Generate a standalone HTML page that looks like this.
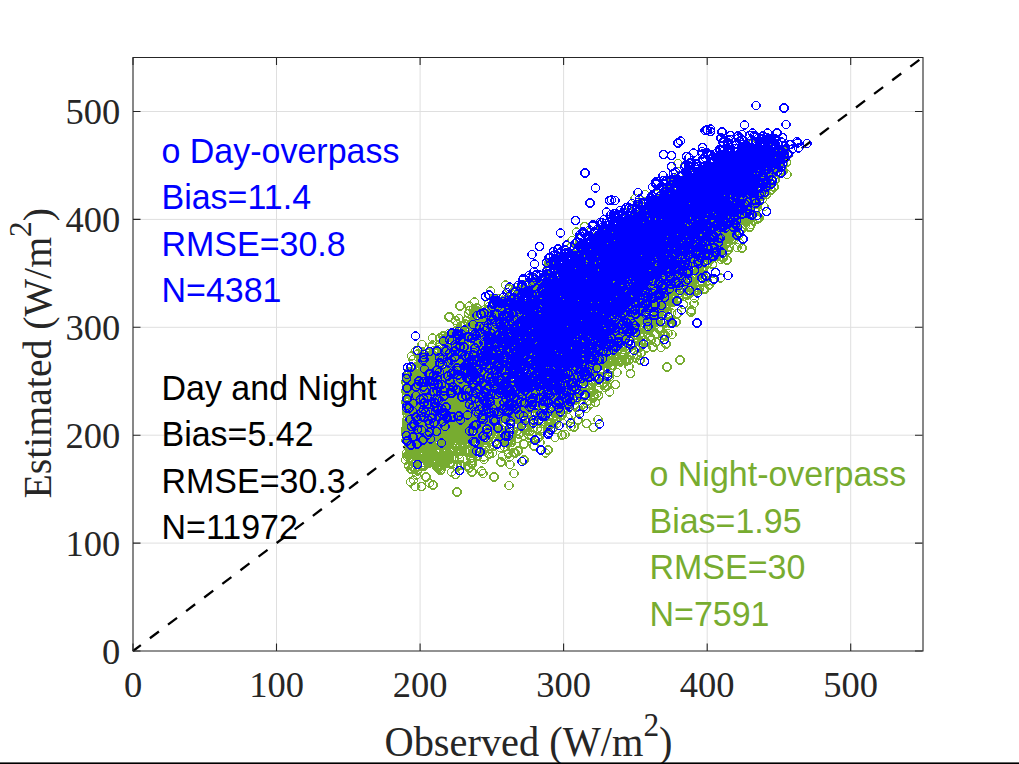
<!DOCTYPE html><html><head><meta charset="utf-8"><style>html,body{margin:0;padding:0;background:#fff;overflow:hidden}svg{display:block}</style></head><body><svg width="1019" height="764" viewBox="0 0 1019 764"><rect width="1019" height="764" fill="#fff"/><path d="M276.5 57.5V651.0M133.0 543.1H922.5M420.1 57.5V651.0M133.0 435.2H922.5M563.6 57.5V651.0M133.0 327.3H922.5M707.2 57.5V651.0M133.0 219.4H922.5M850.7 57.5V651.0M133.0 111.5H922.5" stroke="#dfdfdf" stroke-width="1" fill="none"/><defs><marker id="g" markerWidth="24" markerHeight="24" refX="12" refY="12" markerUnits="userSpaceOnUse" overflow="visible"><path d="M8.7 4.1L15.3 4.1L19.9 8.7L19.9 15.3L15.3 19.9L8.7 19.9L4.1 15.3L4.1 8.7Z" fill="none" stroke="#77ac30" stroke-width="2.3" shape-rendering="crispEdges"/></marker><marker id="b" markerWidth="24" markerHeight="24" refX="12" refY="12" markerUnits="userSpaceOnUse" overflow="visible"><path d="M8.7 4.1L15.3 4.1L19.9 8.7L19.9 15.3L15.3 19.9L8.7 19.9L4.1 15.3L4.1 8.7Z" fill="none" stroke="#0000ff" stroke-width="2.3" shape-rendering="crispEdges"/></marker></defs><path d="M133.0 651.0L922.5 57.5" stroke="#000" stroke-width="2.3" stroke-dasharray="11.3 11.35" stroke-dashoffset="1.5" fill="none"/><g transform="scale(0.5)"><path d="M1131 638 1466 325 909 697 1464 400 1012 795 1079 658 1347 564 1071 810 1153 562 831 905 1289 488 1147 788 1023 881 1316 636 1007 677 1097 552 903 944 1067 642 947 823 982 707 1287 536 993 801 1115 820 1508 336 1480 436 1268 526 1148 639 991 714 920 728 1491 327 1133 577 891 849 1200 680 1307 544 1193 696 1429 495 840 902 1141 628 1100 759 855 752 1211 590 1368 394 1180 613 981 744 1357 499 1130 801 1130 593 1289 490 912 832 1340 646 1239 522 1315 542 939 846 1326 406 939 612 868 701 1370 485 1375 463 1389 470 1108 569 990 757 816 816 1214 586 1265 512 1353 534 994 684 954 616 1210 622 1329 606 1482 367 914 802 1114 789 1406 541 1079 750 1178 685 829 787 1233 712 1431 493 1346 549 1397 471 1224 510 972 666 1300 673 952 707 1350 479 856 755 1345 488 922 790 1050 775 1015 599 1245 582 931 756 1063 683 816 755 983 850 1078 671 885 730 1206 598 1053 742 1269 556 1219 754 1084 708 1381 451 1205 574 1333 585 1030 647 1150 657 942 838 1547 334 971 689 979 762 863 766 980 723 1296 548 1249 471 900 875 1051 625 1078 672 1227 611 1098 703 1176 632 1357 515 1269 644 1044 623 1094 732 1046 664 887 684 946 903 995 715 1014 838 1013 684 1170 691 1493 422 1305 639 1318 658 1293 522 1183 503 1429 392 1244 675 1124 653 865 676 1117 816 952 704 902 767 1128 800 1313 564 1002 624 1301 463 1139 743 913 770 1484 354 1066 606 1002 699 1363 532 897 913 1275 542 937 673 1061 798 964 825 1358 596 1059 714 1498 364 1201 642 1246 611 1137 728 1011 570 1062 757 1455 384 945 695 1523 393 1293 604 1041 679 1211 470 1054 675 1054 568 1126 646 823 805 1120 600 1493 356 996 795 1285 515 1090 647 950 873 1416 474 823 755 1007 628 1564 340 982 731 1365 374 1188 705 1329 643 1204 595 1043 777 1295 571 830 819 1093 603 1048 664 1111 749 899 909 958 780 1161 605 1058 664 1318 518 1188 667 1375 395 1274 539 1186 728 998 692 1311 487 976 741 864 809 1481 436 1148 716 1304 524 1141 666 1192 541 836 832 936 729 1233 506 1166 608 919 806 1468 440 916 780 1130 674 909 818 1263 543 991 698 903 821 844 913 929 831 939 698 1146 540 1095 738 1474 415 1470 371 1322 495 1231 572 1361 484 1452 489 828 785 893 676 1041 613 876 936 1184 769 981 767 984 775 998 645 879 878 1280 498 1217 480 1189 641 836 845 1083 605 1241 555 917 860 1057 653 826 756 869 790 954 790 1074 654 1102 594 1396 507 1015 652 827 774 1346 470 855 864 876 903 1482 461 1289 465 1028 820 902 725 1057 705 1029 729 1387 465 1076 743 869 736 1439 430 1199 701 892 676 889 760 1104 577 875 815 1205 630 1195 590 834 912 1330 558 1314 596 1427 350 1230 526 1246 649 922 785 829 858 858 789 1483 342 1214 705 1462 452 1035 736 1290 616 857 712 923 735 991 803 1154 577 1158 592 1123 661 1080 672 1169 594 1486 412 1099 732 1355 501 851 894 1057 684 1160 526 1197 584 975 655 1065 633 1462 450 1216 679 1175 749 857 858 848 813 951 883 905 780 1514 438 813 878 1045 648 853 738 1210 518 844 797 860 792 867 730 988 672 1170 493 1329 540 985 906 995 702 1344 482 1284 523 898 875 1330 616 1350 450 931 830 1202 688 942 790 971 865 1121 596 1137 668 1112 685 1148 640 952 813 1308 484 992 778 1424 355 1133 578 1007 809 929 652 1115 602 1051 571 1199 679 1123 546 838 832 1351 476 848 910 1347 427 1335 540 1436 479 1226 604 920 900 1090 747 1088 767 1205 553 1054 666 1234 624 947 844 1037 667 1150 675 1081 677 896 742 1485 422 1245 660 1351 498 1040 734 1459 397 1334 504 1506 374 943 742 1111 820 1057 730 1193 551 975 675 881 870 1110 760 1210 476 1056 742 1521 392 1069 702 1005 640 1336 482 1105 616 989 659 997 681 1462 409 1480 357 1214 616 992 708 1259 523 955 654 1019 825 1149 785 1066 638 1036 656 1497 420 926 651 1193 622 839 842 875 814 951 703 1532 345 1269 539 1381 458 846 780 1238 501 1089 652 1075 562 1257 555 1010 679 1132 604 981 831 1060 769 1144 587 918 874 991 856 1077 621 1108 672 1325 449 1212 626 1161 759 1383 576 943 865 883 733 1061 582 905 784 1157 635 1168 695 901 741 1262 562 1158 696 1079 675 1429 476 1371 464 957 806 924 866 1427 409 918 667 1292 684 1013 663 1042 727 1156 639 1438 394 813 855 921 715 1265 600 1062 617 998 668 1481 358 983 703 1261 542 1483 347 1296 605 1257 468 1267 583 1329 434 988 598 1202 730 1327 500 1400 485 1417 442 1415 455 879 861 1051 759 1098 626 1403 480 1077 775 984 710 826 933 998 673 1310 555 826 918 923 834 1012 702 1143 521 1043 728 1395 445 949 652 1161 634 1307 489 1442 444 1386 492 904 716 1318 517 1234 658 1078 646 830 925 925 779 1286 527 870 774 1013 798 978 686 1284 557 1041 637 872 747 1048 727 1021 704 1263 520 1017 705 1246 613 1147 595 1399 498 1274 599 1070 683 1115 695 1107 702 1385 566 906 895 1079 756 1145 634 1087 719 1183 615 1123 757 1073 597 1242 630 1023 742 1189 610 1271 551 901 864 1021 724 1459 452 1486 431 1534 362 842 932 1346 604 1448 396 1413 485 1261 426 1234 745 1265 527 1169 551 1316 472 1125 740 960 670 877 906 1419 410 1290 512 930 803 1343 384 1005 632 1207 585 1039 734 953 642 929 879 861 827 864 820 860 796 874 913 1352 433 1134 610 899 919 1139 696 1149 576 1122 657 948 889 1085 781 1384 430 1055 791 1126 604 1443 453 964 685 1269 629 1115 702 1315 565 1041 780 1149 624 1046 663 1380 466 1426 379 1205 577 1509 342 1273 456 1349 544 1406 394 988 687 1520 333 1059 852 1122 645 932 764 1342 473 1027 710 1243 636 956 848 1036 693 1056 678 967 714 836 872 1302 411 1466 376 960 842 921 706 1034 595 869 775 1217 751 1046 607 1161 595 1417 460 1375 450 1433 404 1448 413 1178 576 1125 663 838 771 882 939 1138 701 1371 396 1084 618 814 860 952 663 1294 486 919 735 944 708 997 784 1190 511 1354 528 956 827 1184 518 1142 603 1092 753 1172 638 1336 667 955 698 1122 515 879 694 1132 597 1318 553 1560 309 1110 616 1003 625 1172 690 1048 746 892 851 1138 729 1324 450 1403 424 1503 356 1046 745 976 829 888 774 1087 633 1330 483 966 701 1365 473 1259 491 945 668 1205 586 1340 508 1446 391 921 725 1342 495 1306 694 971 859 1002 797 1474 367 1042 643 999 796 1265 652 902 711 1114 701 1040 587 1150 616 1187 587 1210 582 1084 632 1399 412 1353 482 1446 501 1092 699 1272 558 1083 768 992 754 1218 708 1461 433 1328 479 996 714 962 885 1303 518 1254 621 1377 468 911 893 1376 543 1084 669 989 814 1031 626 1537 355 1473 412 870 743 1014 835 1265 490 837 884 837 716 843 859 1382 474 1026 776 1017 729 1319 473 1016 806 1278 425 1047 721 1004 733 1058 677 925 664 864 879 1384 449 1382 432 1101 739 1243 546 1376 421 1060 604 1259 557 1290 535 866 817 906 845 1287 475 1255 558 935 932 1346 420 1325 590 1025 801 1029 618 888 733 1092 686 887 858 1150 747 1200 597 1173 847 862 777 1198 620 1288 510 908 669 1181 675 1340 475 940 714 1425 562 1494 364 1259 561 1385 458 988 751 1227 680 1438 442 843 844 1341 420 967 676 1325 577 1212 639 1326 570 1066 689 1095 778 1436 422 861 777 917 837 1495 405 1425 425 911 731 1496 393 984 833 1404 491 1416 369 828 897 818 846 1022 671 1444 362 1318 448 1057 854 1372 388 1010 722 1034 776 939 740 1477 401 1327 435 1102 660 984 839 1485 453 1063 692 951 776 1080 641 1264 635 1302 466 887 924 1461 445 1233 575 855 858 1355 627 1494 366 1355 480 818 861 1108 733 1178 610 1400 463 1126 811 866 896 1446 465 1468 479 1116 755 849 864 1356 570 1280 627 1493 390 817 781 1086 716 995 698 886 865 1276 566 1030 641 839 775 903 747 1329 464 1188 792 954 658 1248 564 901 755 1232 482 1220 608 815 786 1131 792 1269 495 1293 659 1255 505 1397 521 1291 599 1434 462 1074 739 836 849 933 728 998 773 841 793 886 751 1135 654 976 629 997 830 1280 608 1369 376 1376 407 1048 652 1257 482 1367 484 914 780 945 738 1215 517 984 710 940 687 1046 654 823 816 1088 633 845 787 972 807 955 776 1023 729 897 870 1107 564 1242 631 1029 772 1439 483 1374 590 1009 719 839 918 1300 471 969 816 1025 812 1172 584 1563 301 1005 753 1106 576 1202 606 1239 698 952 732 1182 715 1150 718 1223 604 891 902 898 793 1499 357 1342 475 1347 504 1447 456 1479 365 1061 785 1290 565 1211 568 1160 653 1237 501 1017 656 1376 540 1069 618 912 829 819 823 1210 673 964 700 1473 368 941 780 1015 879 1514 342 1136 678 1434 432 1310 432 893 903 954 886 1057 819 1393 459 1026 822 1102 808 1113 566 1020 783 1314 623 850 856 960 881 1345 446 1195 698 1131 817 1047 666 900 715 1099 646 1521 371 1181 739 1170 701 1528 413 1397 443 1566 342 1470 383 1229 464 1008 861 1203 627 1034 631 1333 644 905 856 1102 823 1358 403 1097 617 1185 592 880 837 996 693 1471 401 1221 579 1044 810 1134 568 1305 540 1315 575 1347 549 999 615 968 738 1209 653 1140 517 1163 567 953 797 1016 643 1288 583 1040 779 1292 530 845 931 1466 350 949 906 1111 633 1433 419 977 782 961 635 1517 389 1416 432 1143 596 854 908 1187 534 976 707 953 702 1445 328 1197 574 1091 745 856 869 1048 643 1378 385 1007 727 1019 770 1189 525 976 741 1158 588 1300 490 997 690 1108 762 1170 585 1043 670 959 778 890 784 1163 720 1451 433 825 907 1379 450 1481 374 1149 606 1488 417 1254 570 1151 575 1103 674 1104 585 1238 722 966 669 1262 551 1119 628 1233 547 1455 431 965 810 1067 808 990 727 849 906 1199 575 1203 666 1568 306 1185 667 1063 658 1412 451 822 844 1007 656 1288 468 920 839 1042 671 1365 419 1032 684 971 783 1402 561 866 922 1371 428 1015 651 949 628 1117 709 1114 699 1484 420 1288 518 1101 570 1159 602 1016 886 1512 364 1057 718 1397 541 1221 579 1428 435 1038 868 1075 705 1047 645 1346 490 1469 383 1344 535 1096 854 1348 447 1272 554 1135 527 934 874 968 805 1253 545 944 780 1160 667 1328 564 1219 744 1191 673 980 783 894 753 836 939 844 720 964 841 1158 700 1079 637 947 675 1007 601 1101 557 1324 482 1221 562 841 795 1113 747 936 745 1370 460 1397 521 1156 840 1277 638 1242 608 1338 521 992 703 962 819 1284 597 1477 472 963 745 1164 644 1150 596 1049 685 1287 525 902 876 1048 595 1084 755 1469 379 1240 577 1258 462 1573 325 961 661 1187 546 886 818 921 764 1248 468 1345 440 1208 494 1172 702 1317 468 1473 320 1438 413 1332 582 1084 819 1299 503 965 825 1415 389 993 642 1507 410 1006 739 984 845 1027 710 1115 624 945 921 983 668 1396 468 1444 389 917 867 1090 667 1077 677 1347 533 1224 622 1070 631 1316 462 1188 599 950 856 1319 568 1104 726 1399 502 1227 599 914 761 1291 516 1173 613 1149 543 1077 745 1225 731 856 840 1126 671 1449 451 947 848 905 857 1071 722 1135 689 1051 757 1115 589 1233 521 1319 496 848 883 1054 685 1197 520 826 828 1464 323 1211 575 1115 677 1094 615 911 713 858 847 1238 554 1436 461 1319 526 827 768 839 761 1131 732 1168 668 1189 527 1388 502 1409 397 1526 357 1026 863 1106 722 1538 308 1251 531 852 824 1421 410 1195 577 941 651 1034 675 1171 596 1219 650 1071 800 1282 540 1143 586 1498 350 1368 412 913 817 883 755 1368 519 1189 674 1500 418 1086 653 932 801 838 820 1300 519 870 928 1213 520 1162 623 1279 462 1458 349 967 774 1114 677 1288 404 946 823 875 855 906 780 1444 463 1316 602 945 795 823 773 1209 526 1018 595 962 754 944 810 1108 623 1031 779 1454 468 1163 689 1411 488 1437 443 1411 404 1123 592 1174 580 1144 681 826 777 1461 475 914 780 1156 722 1239 569 1314 445 1149 538 1210 548 1346 594 1213 643 1228 479 1369 413 863 717 1135 745 830 738 914 741 832 801 1380 485 1023 739 1136 637 1315 444 1243 443 1438 337 1118 563 1252 657 1381 415 886 672 1106 729 873 815 1158 746 1013 784 1357 467 1105 794 921 688 1386 458 1080 838 826 909 986 654 1055 614 830 770 907 770 1003 728 1028 778 1087 778 1004 712 1018 636 1102 654 1036 850 1286 554 1310 598 824 783 921 882 882 762 1037 787 1039 635 1286 570 1272 568 1394 403 1239 529 1182 628 1540 303 1212 654 1059 640 1008 678 837 808 1458 369 1289 505 1051 619 1388 475 1296 516 1104 525 1472 323 1404 448 1092 722 1081 582 914 934 882 763 1040 616 953 845 860 815 1276 525 1479 326 1242 565 1419 371 1383 430 1214 772 1137 588 1040 668 1121 682 1018 641 927 783 1121 711 1224 632 1175 630 1278 510 1027 596 811 920 952 764 999 674 1156 786 1059 669 1222 635 959 869 1105 727 813 906 1241 518 1379 472 1373 515 1387 517 942 731 1509 337 1154 729 936 841 875 853 861 835 1208 554 1203 680 1314 472 1223 635 1135 591 921 789 1275 532 814 818 1224 559 923 730 919 672 1417 376 1439 454 1265 496 962 805 1106 753 1033 603 892 757 967 670 852 954 1494 394 967 666 1057 651 973 630 1218 569 1161 541 1298 588 820 904 947 706 1184 732 1170 665 1344 533 868 808 1048 759 1067 649 1132 566 1036 645 1275 543 884 786 854 831 1013 783 874 720 1061 703 1171 621 870 871 1100 662 1157 568 1163 772 833 950 1304 432 1266 506 1003 714 1107 608 1279 644 1352 465 974 847 1302 471 1079 685 1469 467 1391 364 1040 625 1041 665 1116 589 1479 374 909 782 1153 720 1215 496 1265 482 859 705 1184 535 1095 857 1029 650 1492 444 885 775 1257 556 947 618 1463 469 1124 602 1097 531 974 706 1144 573 1378 433 862 876 1222 576 911 793 960 741 1369 432 862 887 1273 518 852 879 1130 602 1200 633 911 712 1326 670 957 631 1110 589 969 797 1297 488 976 757 982 654 820 809 1411 445 835 790 1014 733 1215 700 1025 835 1183 569 1044 650 1392 516 919 838 825 852 881 920 1138 618 1180 662 1352 505 1471 391 1066 578 1344 566 1068 745 1048 608 902 796 1382 448 1027 646 1215 721 1134 765 1550 338 978 908 1155 680 1317 410 939 768 1343 590 1159 781 883 750 1488 394 1072 761 1110 692 1313 472 1484 413 972 809 904 875 1283 429 1235 699 1093 733 1215 629 1458 446 1359 449 1165 725 1420 520 1424 440 1302 617 893 870 1161 620 1189 664 1392 434 1134 614 1193 578 1261 610 870 766 851 724 833 801 885 891 978 613 846 750 1182 673 1167 626 1098 832 818 859 1135 677 898 869 815 884 1322 512 1422 400 862 905 1223 475 849 867 1173 564 1200 626 1176 485 1528 388 1193 569 923 677 1446 406 1005 708 1147 553 1084 704 1330 670 870 827 1046 653 1090 772 1183 580 1419 404 1006 764 1033 799 1232 624 950 622 1130 869 1017 719 1200 741 1172 729 1241 623 1083 686 965 706 822 859 1186 570 960 735 815 796 1050 621 990 720 1239 597 1004 667 1046 788 1268 477 1233 551 920 893 1176 565 1446 481 1421 441 1365 506 994 806 1477 437 944 875 1066 738 890 816 1163 539 1267 536 1242 560 817 795 1511 395 1011 680 1280 560 1439 477 1309 546 1138 612 1147 561 909 822 1054 654 1343 435 1238 613 1226 558 1238 626 1035 839 1507 370 1027 905 936 777 1229 528 925 818 1499 455 1169 606 894 708 828 791 1185 557 841 800 849 814 1072 638 1094 671 1348 398 900 886 1381 535 1068 767 1368 524 914 699 846 766 1086 649 954 781 1111 786 1341 362 1397 529 872 825 979 689 1008 644 929 852 1105 786 849 784 943 699 857 858 1099 725 1454 399 915 740 1399 450 1015 624 1284 606 1359 554 1188 684 1264 645 1205 580 1443 393 1308 515 1077 801 1000 723 918 897 1131 770 962 789 966 759 1394 506 1251 537 1147 700 1360 539 1139 661 1062 767 1241 594 1190 682 950 711 1016 604 1160 690 956 688 1428 444 843 881 1389 448 1507 378 1194 611 952 817 1332 507 1090 736 1259 477 1019 605 958 647 1471 421 865 730 852 802 1311 453 1306 550 1012 723 1050 730 1242 486 1184 549 1216 512 1086 609 1507 353 912 761 1205 703 948 829 1026 764 1004 734 1345 412 1172 817 1024 640 1145 621 1101 691 1150 593 967 914 1050 744 1100 599 870 837 822 938 1181 752 949 857 1326 444 829 806 959 731 1204 661 902 732 1077 781 1004 763 986 717 966 796 1500 453 1017 804 893 879 1427 462 919 738 1277 635 1223 708 1263 465 1304 473 932 695 838 766 1083 728 1092 663 967 704 1333 609 887 746 1123 753 1141 595 818 891 1333 456 1040 595 1099 680 920 739 1065 621 1096 750 1186 540 837 798 1081 692 1118 648 1468 450 1182 525 1241 502 1089 667 1120 743 1511 394 1074 809 1538 284 1191 681 1428 510 1170 515 1342 559 1342 450 1057 870 1023 601 1453 361 1023 685 1312 518 930 902 1118 678 1052 602 991 838 968 850 1484 496 1229 677 1104 607 1168 585 1362 445 1235 478 899 633 951 680 1403 421 1158 623 1179 489 921 743 905 801 955 815 1021 746 1159 685 1049 816 1235 618 1084 616 1132 603 1468 386 841 789 1208 724 1276 677 932 757 1375 490 896 832 1332 388 940 791 1081 596 1062 659 1167 523 1207 683 840 911 1336 571 1140 804 1430 432 925 825 1091 632 1472 410 1207 530 1128 698 1107 798 1426 464 817 812 1529 321 1107 750 1342 578 1114 737 1346 482 880 753 1080 885 1302 680 1548 374 1132 625 864 764 1285 604 1216 612 913 871 950 714 1125 664 923 857 1428 469 1529 323 1288 489 1360 478 1024 615 885 802 1271 716 1320 481 1247 493 930 776 830 901 1156 552 913 862 1002 924 1110 668 976 727 1446 369 1018 835 1160 554 1495 422 1231 769 1057 684 1289 507 940 731 883 779 839 783 1229 480 1222 526 1231 599 1232 633 1174 585 1456 464 1100 662 896 786 975 791 1070 731 1192 559 1040 675 1086 620 1001 711 1270 574 1361 394 1029 748 1325 614 943 741 1498 338 1039 787 1224 669 1186 764 869 727 1176 593 845 819 1116 704 1146 605 1468 412 933 847 846 799 1202 558 1011 845 1154 493 978 781 1244 720 898 817 1131 586 1303 552 1404 420 1022 750 1153 527 1469 426 906 670 1349 500 1274 466 1486 372 1117 642 1098 581 1151 677 1042 699 853 772 1165 726 1059 634 1127 578 1250 510 1061 684 921 815 1349 517 1459 392 966 742 1191 627 1052 771 1252 491 850 805 1431 441 1369 551 906 781 1211 536 1024 779 951 807 1363 509 1289 407 1170 678 1198 630 1383 443 1030 741 1120 682 962 816 1097 727 926 741 1033 785 1212 563 991 692 1219 592 1322 621 1203 671 1106 625 1060 863 862 764 1299 595 1472 392 970 764 1248 680 1186 581 1335 465 1239 680 942 776 904 755 1027 675 936 769 1186 687 873 890 1234 489 1313 588 841 848 1399 450 1341 525 842 821 1152 716 831 842 1110 755 868 803 1169 705 865 796 874 765 1492 420 1331 465 1232 442 1315 538 953 745 883 751 1019 651 1295 550 1291 514 1263 595 1075 609 1129 611 1279 537 1177 608 957 684 1107 716 1448 414 1479 433 866 784 894 893 852 829 1127 681 1409 456 1133 554 1025 815 1393 457 970 721 1153 621 1397 533 1384 365 902 689 1008 713 1070 627 1303 654 1242 654 1146 688 1051 778 997 698 1174 652 1328 557 1036 793 996 691 818 746 888 751 901 928 1084 728 1306 460 1068 701 911 769 925 763 1469 418 1197 620 1003 672 1361 406 1462 441 1152 726 1096 676 1057 687 1050 709 1378 562 1259 642 1423 358 835 819 902 754 1139 649 1176 607 1083 611 1134 781 1413 493 1161 693 982 848 1124 613 1004 659 1204 577 1177 597 1256 536 1497 359 1123 599 838 751 1121 717 1129 649 1317 468 1440 406 920 727 1398 431 927 672 1178 587 815 809 1361 585 1072 600 955 869 1461 457 871 923 1036 817 1104 779 984 783 1040 598 1360 469 942 916 1158 491 952 772 1197 603 975 740 1015 778 1140 548 976 779 1272 489 959 686 1355 557 1251 639 900 782 1136 599 858 839 927 735 1013 825 1256 511 1196 612 1143 623 934 846 1004 813 1241 693 1119 605 1019 806 860 720 844 913 1436 404 1075 620 1404 541 971 775 1178 594 978 713 1394 449 959 733 1151 713 1486 389 1272 527 1156 613 1044 619 1142 719 814 823 901 845 993 757 845 862 968 919 1078 755 1373 436 1431 338 826 842 1101 624 1239 687 1288 499 919 892 817 871 975 679 1014 750 937 659 957 760 1225 690 958 744 938 718 988 954 1098 526 943 752 1121 587 1450 375 1342 389 1288 560 1457 383 1433 513 1156 630 1245 438 1037 631 1147 603 1432 403 1128 614 1078 721 1222 680 1104 674 877 796 1053 720 904 719 1426 475 1280 524 1088 718 861 896 889 856 983 818 1138 556 885 816 1043 789 933 765 883 768 894 725 894 686 1350 531 932 741 888 864 1349 457 1479 426 1275 522 863 903 904 722 910 876 879 689 1113 673 851 778 1321 593 1071 761 941 808 876 793 1165 542 1308 525 1174 807 967 693 1327 463 1132 588 1175 599 1419 395 1234 687 892 733 1247 535 999 618 1317 470 1161 739 1148 645 908 758 831 865 1498 352 833 818 848 716 1100 588 1451 356 1149 510 1534 377 1262 520 1341 569 1340 513 1457 394 1489 341 1022 808 1257 622 1129 776 1505 326 1179 575 1065 832 835 708 1271 458 820 767 1216 556 984 780 1234 491 1532 364 1034 809 1158 722 1158 821 921 854 1278 501 1253 565 1303 447 957 820 859 924 1061 720 892 734 991 791 824 766 1066 637 1042 834 1021 707 1057 703 840 887 1086 590 1219 592 1020 595 1164 659 1326 443 1139 619 1439 379 1302 506 1158 759 870 808 1106 728 836 836 1472 431 844 801 949 635 934 750 1375 435 1419 389 1269 632 1368 476 981 754 1407 578 882 865 1011 664 1373 518 1244 544 1446 409 1364 512 951 715 1076 817 1525 339 1253 612 1320 594 869 824 1470 368 1154 556 916 764 1168 788 1427 465 1150 641 1536 333 1440 400 1122 711 1487 422 1299 551 978 725 880 740 831 833 1137 639 1290 633 901 760 946 757 1497 324 1330 425 1019 914 1457 452 1111 780 977 640 1032 823 988 845 1247 579 1050 721 1171 736 1198 777 1127 776 1096 694 1037 748 965 655 877 852 1250 479 823 860 1274 609 1290 487 1329 439 1211 700 1468 385 1055 778 1100 797 999 784 819 908 1088 684 1123 602 1103 750 837 765 920 612 989 742 1071 796 948 852 1044 691 998 690 886 836 1389 508 1190 623 1513 341 1187 570 1194 728 1044 655 1329 502 1102 794 1343 465 1105 720 1279 575 1225 611 1063 870 875 797 964 768 1089 555 1109 647 954 875 982 735 1020 747 1152 577 874 856 1069 727 1238 549 1354 499 1133 772 1465 451 1276 568 1317 543 904 753 1127 594 837 806 1229 675 1020 733 1392 490 901 811 864 793 1062 693 918 856 1154 562 1085 664 828 880 971 707 915 930 931 859 1519 326 1172 676 1308 504 1056 760 933 718 1027 789 1248 630 1073 783 819 873 1157 573 1131 816 1238 567 831 823 1400 523 1102 767 1042 840 999 732 1365 570 984 701 1005 665 1402 458 1106 740 846 925 895 883 1289 505 1021 648 1008 761 1002 712 1495 363 1116 828 1407 433 1320 518 1315 544 1307 627 1009 712 1344 512 1119 781 929 716 977 650 1141 688 1113 656 1520 391 1197 665 1198 510 849 763 859 966 1007 824 1093 672 1442 410 848 809 1267 596 1198 765 971 832 1429 497 1054 726 1354 537 989 693 1164 775 1307 460 1377 454 1040 789 951 754 1220 724 1210 674 845 729 1186 621 1456 401 973 714 1202 677 1428 386 1056 734 1340 605 1408 375 846 793 1001 864 971 868 1420 400 1185 601 896 683 1054 663 988 725 1541 311 1392 517 1366 534 887 758 1054 643 1089 652 1019 725 1398 508 1098 749 1297 528 1174 504 1067 757 873 934 1371 508 1113 614 863 694 1111 566 843 804 1016 676 1409 485 1032 784 1025 600 1008 734 1166 648 1123 614 1054 826 1367 513 1105 741 1355 428 1067 761 1036 611 930 723 859 748 1167 623 1039 689 911 733 1140 542 1263 465 1204 651 825 801 1047 626 1231 462 1063 686 1088 744 1316 502 916 762 926 709 1300 611 1432 413 922 879 853 724 1338 387 1164 653 971 852 845 885 1154 676 915 710 1412 458 1417 363 1276 523 1513 283 1009 692 893 921 1212 563 972 680 1248 605 863 713 1031 782 1222 549 1450 474 871 743 1096 635 1461 439 849 774 1098 679 1285 616 1112 824 1368 476 1067 638 1009 634 830 938 1120 645 1507 368 1425 498 812 764 834 866 853 863 1373 582 1044 847 991 855 1281 532 1028 677 1055 805 1249 695 1404 481 931 722 947 653 944 762 1459 494 1159 673 1341 373 938 754 1377 410 1004 707 1197 626 955 889 1132 623 1289 592 930 748 1483 371 1365 461 1253 559 1289 505 996 870 876 776 1021 665 902 743 1026 652 1299 445 927 778 863 784 1331 417 1445 461 1071 790 954 790 1397 517 852 833 1034 735 1329 475 1273 603 1295 573 1113 605 1253 569 1008 893 1379 428 1315 595 1456 368 1298 460 1271 565 938 683 1165 544 865 826 1429 485 1323 505 1144 786 1351 544 1382 581 1040 624 1232 516 901 853 846 726 1304 571 955 829 1068 583 1118 622 1459 361 1308 415 1153 587 1332 594 974 674 871 759 978 663 1182 725 1027 684 1524 323 1155 621 1165 654 1281 666 1133 747 928 778 945 921 1097 657 977 681 949 893 1046 710 1326 517 1378 435 983 633 943 853 837 796 818 783 1045 730 940 877 1126 641 901 773 1202 575 1158 615 1425 529 1333 504 895 730 1152 605 1045 634 841 863 1154 705 1500 322 910 732 815 872 943 687 1083 603 984 751 1246 553 985 795 1376 481 899 749 917 732 1490 426 863 850 1290 515 870 714 919 842 1200 480 1345 444 1195 650 1548 353 1519 382 913 780 1104 639 1106 657 936 736 1223 548 1383 420 1279 560 1316 437 982 739 1163 674 930 648 1296 533 1443 385 1123 756 1135 627 1278 563 1405 416 875 794 1289 588 1407 436 950 725 1002 748 1107 726 1181 591 1099 673 1168 620 1058 666 1078 759 1012 665 1219 667 1451 459 1518 391 1055 676 843 770 1207 710 1470 428 1469 396 1242 591 1050 739 870 717 1102 661 1220 566 1267 618 1225 551 1314 578 889 795 1134 621 1096 732 1125 830 1104 692 1188 570 885 828 819 866 1087 712 1177 638 1079 727 1133 615 1066 839 1335 491 1333 452 914 760 1200 710 1138 594 851 915 873 758 1336 608 1262 491 918 866 1176 494 1405 501 1138 774 1185 679 1235 483 1141 799 1391 458 978 648 960 747 881 941 1091 646 1021 783 1124 663 929 809 1113 768 1122 667 1009 701 1328 565 1127 682 1181 736 1468 378 1389 466 1214 649 815 786 1213 560 1008 786 973 800 1188 542 930 745 1276 529 1306 593 905 845 914 839 1437 432 833 733 1323 456 1284 610 1253 627 836 839 1456 414 948 693 1386 436 1124 735 1021 756 929 819 820 784 965 655 891 706 816 846 1227 620 1502 406 1132 763 1341 477 1492 320 868 799 1080 752 1078 701 974 697 1263 546 1156 594 925 708 1460 390 893 735 847 750 1291 573 1081 802 1219 784 832 892 867 756 996 734 1022 739 1140 715 1016 820 964 783 1467 409 902 670 1125 617 959 701 1334 397 1197 551 1198 629 1086 638 1100 814 1533 389 1080 650 1222 555 873 778 1138 600 1291 577 1106 856 1270 530 1226 675 887 714 1111 842 834 776 875 763 1232 507 957 795 847 796 1106 719 1250 621 993 745 939 750 963 855 828 747 841 729 1102 633 954 807 1082 601 1425 438 1328 469 1346 454 1441 444 1228 655 1087 594 863 800 1266 466 888 781 1007 787 994 793 1451 469 1380 491 978 670 1050 640 1111 779 845 712 825 782 1165 643 1124 712 1203 508 1391 428 906 835 1407 481 950 813 1434 494 919 726 1065 707 1277 605 945 826 892 842 986 643 1027 702 1398 536 975 691 1238 530 1353 418 821 889 989 718 1414 412 1173 706 925 699 1120 709 1065 685 1353 421 1319 421 1020 711 1512 343 845 774 1421 457 879 850 1156 589 1076 792 1343 647 1113 683 994 687 1260 614 1054 678 1080 771 1338 497 1039 759 1142 623 1332 598 1346 515 1239 573 1258 720 878 741 1151 620 1183 561 908 917 1400 403 1234 615 883 749 895 730 883 784 910 843 1178 523 879 806 1070 770 998 702 1219 616 1259 488 1209 663 1182 576 1157 600 1300 556 1125 724 953 759 887 708 1185 540 1329 447 1263 509 1256 568 1307 491 868 712 1366 473 834 796 1159 568 1074 654 902 725 1168 630 891 807 847 774 1258 611 1403 373 1089 748 1330 488 1470 410 1272 492 1078 674 1458 406 973 722 968 651 1230 464 1345 497 982 796 1014 649 831 702 877 750 1023 620 877 703 827 834 1302 472 1395 391 905 726 1031 713 823 864 1077 623 894 848 1165 744 1235 567 1262 492 884 720 1324 571 1356 454 988 692 1496 354 1028 753 980 651 918 637 1481 329 1515 309 1312 649 1005 687 936 685 1337 563 1340 569 1245 703 822 733 874 879 1167 527 840 846 1339 538 1503 427 1503 389 1348 550 839 843 890 847 1505 358 1149 620 889 826 815 811 891 927 1391 406 1005 912 1284 491 1451 445 1038 626 1444 462 1394 503 895 753 899 792 1412 479 1355 600 1344 669 1228 625 1475 409 1078 775 1340 554 1305 609 1087 678 1000 713 891 728 1469 444 1340 580 1281 612 976 749 1341 462 942 806 1207 765 921 929 1096 721 1192 537 1264 537 1429 466 1475 367 1294 474 843 762 1057 566 1269 548 1381 402 827 905 1065 682 1448 360 1440 480 1396 579 915 692 1019 783 1440 355 1431 405 1482 338 1251 465 1258 525 976 759 1258 571 983 653 1359 479 1188 735 995 817 912 667 897 874 915 696 1428 384 1047 673 1164 574 911 641 1408 464 1533 335 1133 579 1465 358 1491 399 1234 461 909 914 1224 558 934 879 1407 505 1403 432 932 671 1038 772 1239 589 969 686 1359 556 1128 627 1215 554 1098 627 1331 434 1318 465 1328 587 1044 620 1040 801 970 660 1411 446 892 864 1038 822 836 874 1221 675 1477 412 1145 666 836 758 1037 658 1225 538 920 773 1136 631 1028 661 843 803 1312 508 999 716 933 771 1222 592 1089 562 1020 669 883 743 1522 382 1180 674 1091 834 1176 682 1097 634 1316 595 1380 461 1007 668 1443 394 1002 699 1208 656 1457 433 1249 562 849 853 1198 515 1371 488 849 801 945 666 1071 703 1059 697 1508 400 871 753 930 838 1206 673 889 853 1196 839 1204 502 1155 637 1078 722 1106 680 1047 663 1058 628 1034 680 1009 683 927 825 1161 677 1189 575 1151 749 1129 554 1333 581 1424 417 855 890 1068 763 1107 683 880 866 1025 835 1076 655 840 824 1084 602 882 880 1069 619 944 802 882 722 857 899 1133 674 813 768 1063 661 854 883 1243 528 1216 587 915 724 1044 616 1268 564 899 690 1335 474 1224 460 1455 419 1186 629 843 973 1071 619 1243 478 1106 752 1048 723 975 820 1244 659 917 886 1297 459 994 856 1170 707 1434 410 1180 787 1382 494 874 775 1130 573 1220 624 921 931 1248 566 1223 619 1100 551 1320 486 814 820 1441 468 875 773 1302 558 917 797 820 888 1183 676 1153 517 1282 579 1375 503 1104 726 1139 632 1177 624 1025 637 1325 491 1296 578 919 918 1244 547 953 753 996 597 1168 523 1089 680 1171 605 967 684 1293 601 888 895 817 911 948 825 1126 753 1366 505 1029 732 872 740 1519 387 1239 617 995 686 961 795 913 805 888 831 1264 583 891 881 1237 510 1066 846 1202 537 1046 723 892 813 812 782 1352 536 1346 502 901 723 990 764 1098 587 1450 411 1046 692 1159 693 817 813 853 882 1278 467 1132 558 858 815 1267 658 946 732 1413 383 1523 389 1465 442 933 899 1180 784 1390 582 1201 600 859 804 982 813 1231 553 1053 596 922 767 1163 649 1368 454 1237 596 983 731 940 734 888 838 990 769 1179 599 1422 422 986 719 1284 590 1465 453 1045 812 1305 540 1534 361 971 741 1152 685 1388 550 906 814 865 718 1209 580 1181 567 1418 422 1222 716 1418 447 1137 743 1201 738 1343 522 1073 653 1069 815 1250 499 854 816 1102 750 913 701 1104 645 821 964 848 770 1145 586 1009 876 1255 599 1159 603 1116 651 1373 453 846 864 1449 369 870 804 846 829 1480 371 921 788 1102 633 1044 661 986 638 1131 607 1393 517 1080 780 1204 455 1472 376 1095 657 1021 766 1114 838 1322 522 1243 574 1482 392 1028 644 1449 327 1054 579 822 878 1213 630 1451 438 968 760 1410 429 1358 351 1017 693 1312 554 1021 693 1202 542 1124 798 949 851 1083 686 1066 671 867 809 1391 439 1003 631 1019 731 1470 392 1064 780 1063 667 1358 491 1033 575 1469 375 1110 752 1052 788 1017 778 1011 760 1498 381 1117 726 859 737 866 737 1308 516 1410 470 1478 408 862 853 976 627 1348 558 1343 626 1344 543 927 749 1296 455 1279 492 1415 401 1092 608 1216 602 945 821 1282 674 823 858 1372 587 1232 486 1014 711 944 677 1108 826 1280 543 1440 354 1483 370 1148 573 1004 865 897 784 1271 479 1182 647 956 730 1145 667 1061 585 1320 614 870 881 939 734 932 867 1112 671 1023 671 1180 605 1116 807 1030 738 1240 675 1168 652 897 744 1051 702 1188 591 1199 713 1100 597 936 847 1348 520 1140 657 1210 632 1379 449 844 792 894 759 1272 577 882 848 815 758 1503 365 845 904 1375 508 1508 368 1059 676 1198 641 890 865 1550 360 1406 526 1000 679 864 781 1306 609 1569 307 912 752 1405 469 1376 470 951 750 934 847 945 741 994 776 1077 626 949 627 1018 672 1168 652 1183 767 1567 324 915 902 1408 502 970 696 948 717 1398 496 1167 698 1249 540 1409 483 1298 467 1290 567 1028 694 1016 703 1125 752 1058 655 939 621 1272 656 1305 582 1425 468 1218 461 1132 557 1041 694 1067 751 1343 467 1274 710 883 840 1180 619 1405 397 1361 499 1053 657 1344 437 1360 560 1197 652 1389 533 911 818 1450 362 1363 452 1068 704 1324 608 1126 747 1318 466 1021 630 1221 549 861 854 1508 356 1261 500 1417 431 1222 736 1237 670 1412 437 1547 313 1048 888 1003 710 1288 568 1113 848 1569 304 1161 666 886 897 843 759 1287 600 1033 629 991 800 1234 664 970 619 1050 744 1053 778 1309 589 1265 630 1432 494 993 670 1547 320 1149 713 1043 613 1455 416 930 678 1479 436 827 820 919 823 1148 854 987 799 1271 530 1180 624 975 706 1095 681 822 789 1417 372 848 932 1017 663 1418 480 1135 760 1151 653 1217 634 1250 464 1019 689 893 734 1197 703 1106 735 1192 527 1473 447 1166 607 942 776 1028 828 1391 400 982 819 1008 795 1457 399 1112 650 1240 505 1446 436 1372 534 827 868 1125 635 1240 576 905 760 931 814 1305 578 1278 658 1511 317 852 869 847 789 1525 398 1254 609 879 865 1225 523 1215 581 1241 647 1348 574 1272 498 1155 629 1051 861 943 855 1515 359 1093 613 988 797 1217 680 1234 476 1181 568 1390 380 1189 580 1054 712 876 765 894 710 1120 583 982 688 909 744 1349 487 1097 642 1271 492 1367 609 850 811 1473 350 1156 590 1023 715 1116 776 959 861 1025 667 1191 621 940 886 1095 707 995 716 1309 551 969 803 1272 548 821 915 1088 801 1108 626 1069 789 1135 663 1361 434 1137 814 1338 572 1272 618 942 826 1004 870 918 816 1308 459 878 932 1371 375 1157 585 1083 716 1161 698 1146 595 1197 791 1149 650 1009 717 1410 415 1195 508 1544 345 901 790 1455 350 1201 564 1236 527 1455 400 855 926 938 825 1166 585 1004 678 823 812 1000 693 1244 593 1239 458 829 783 1019 680 1372 428 1219 596 1197 555 1497 383 1023 669 870 720 1197 661 1210 666 1153 665 1471 429 1237 569 859 831 1215 613 858 908 1166 745 1126 810 813 841 942 786 1076 620 1017 771 902 817 1195 543 1457 427 839 789 1302 614 1037 809 988 683 1320 557 1444 344 1510 418 1446 477 897 889 819 816 1285 600 1297 528 913 843 1168 567 1213 593 1055 700 925 851 1029 581 994 835 817 931 991 705 974 832 1234 583 1209 752 1234 656 1001 694 1181 776 894 844 1297 536 1454 454 1298 584 1273 550 1167 699 1296 655 1103 637 980 642 1308 635 1134 602 1437 455 1176 731 1144 784 839 799 957 655 1264 483 1088 677 1438 398 1194 471 983 791 972 881 1000 751 955 901 1143 743 870 823 1171 656 1082 659 1391 446 1402 396 1004 674 939 692 1078 690 1128 597 1258 733 1492 340 1406 430 1063 752 1153 758 1173 677 1391 446 884 746 1337 584 983 665 886 807 1507 379 1034 736 1285 480 1043 665 1000 684 1150 654 965 792 972 653 847 797 1261 536 1433 512 815 829 998 612 1383 539 1185 529 899 909 969 727 949 741 836 821 899 734 899 755 1126 763 1300 486 1135 671 1221 649 1396 485 1310 508 881 862 831 805 1442 491 982 815 1377 436 929 789 1392 395 1089 752 832 827 1525 369 892 767 828 774 1325 505 1021 630 834 756 820 813 1069 747 884 843 1037 747 1241 590 1467 374 1001 617 1169 745 1254 569 1320 498 1120 796 1318 471 1102 768 1282 706 1207 599 1103 633 1383 620 1013 611 1041 730 1114 633 855 838 1179 578 829 893 1380 493 1034 723 1400 451 913 865 1262 629 1175 743 1164 689 1418 418 872 740 1429 422 993 816 977 805 1240 471 1073 749 903 834 1159 518 1388 607 818 875 1067 626 932 869 1257 522 1315 451 908 742 1361 453 1013 769 1286 432 900 751 1108 740 1216 590 1121 682 1243 671 1305 538 1441 380 1216 660 930 726 1300 482 1079 827 1250 650 1243 529 1399 541 1178 567 962 654 1069 677 1198 622 1166 590 940 789 1344 524 1172 656 1170 573 948 706 1119 683 986 690 1027 652 1030 620 1188 549 1049 644 1411 475 1287 462 1508 298 1192 601 1083 617 1061 817 838 863 1254 616 1015 726 828 892 1424 512 967 890 876 929 1278 619 1303 558 1303 555 1195 706 830 831 1144 563 1479 352 1098 577 1003 703 1158 657 1205 619 1004 727 1305 565 1358 472 829 749 881 774 1124 698 853 851 942 738 1385 511 1560 346 1359 565 922 842 1328 469 1173 606 1542 365 995 638 1412 520 823 885 958 732 1416 454 1130 708 950 714 1251 576 1016 882 1178 547 1074 617 868 851 856 744 1425 510 1382 569 1099 572 969 739 902 752 1475 362 1148 592 817 797 1201 546 1292 523 1008 799 1507 370 853 887 888 723 1187 687 1102 649 1047 616 1248 668 1441 556 1374 406 1270 496 999 720 1007 660 931 734 1388 549 1235 558 1169 526 861 852 1364 502 910 674 1130 577 1449 425 1040 776 1099 636 1459 431 1004 762 1096 625 1054 678 1069 803 1084 677 1530 348 1329 514 840 754 1190 611 820 761 866 717 1174 493 1198 582 926 831 1067 629 1042 790 1253 585 1077 654 1056 743 1345 410 1229 470 888 677 1148 521 960 756 987 745 1193 644 1379 571 1041 793 1137 626 866 970 1305 493 928 736 1064 653 990 796 1135 669 1005 647 1105 773 1089 676 1193 547 1243 577 1143 762 1281 481 1409 579 1099 675 835 759 1299 568 1100 565 1311 388 1369 487 865 775 1064 656 1280 580 1096 713 1095 576 1111 664 1524 367 969 742 922 814 1299 509 1357 588 844 845 1193 618 1372 382 1264 658 912 744 925 824 1092 680 1049 696 925 897 1135 616 938 936 865 813 1118 622 1453 394 915 694 944 646 1130 684 1463 420 1096 665 951 691 1169 730 1019 696 891 868 1203 660 1086 831 1473 419 1056 762 915 648 1019 630 1112 641 999 720 1079 738 1255 645 1298 567 1179 660 1113 614 890 812 1229 600 964 731 1279 536 1471 423 1369 506 990 751 1103 815 1092 781 1301 591 1076 754 1037 723 1177 565 1166 751 1360 476 1439 390 1372 561 1528 313 1169 539 1073 793 1256 655 1382 624 1260 542 1171 716 921 833 1268 522 1420 387 1101 537 1382 560 1180 677 984 677 1507 358 1282 523 1506 335 1191 531 1282 551 990 680 1141 805 1056 745 1241 576 1457 431 1158 769 816 762 1015 797 1147 661 1319 626 1175 672 945 803 1190 666 1391 498 1136 712 1361 440 1146 587 855 775 1497 357 843 757 992 827 1217 639 1336 486 953 863 1384 408 1254 717 874 884 1091 647 1400 493 1093 625 1378 476 949 646 1386 456 1249 576 830 777 884 922 1277 628 1356 327 1048 585 985 652 1497 366 1363 427 1548 297 929 814 1129 612 879 829 1236 505 1069 667 871 840 915 842 1422 486 1389 497 1472 389 1408 392 1145 732 1133 698 1176 638 1299 659 943 676 1092 595 1064 681 1317 518 844 732 1210 775 873 803 1149 722 958 678 1503 436 903 780 1018 743 951 806 981 782 1237 584 860 819 1198 692 1136 694 845 704 1463 373 1115 587 850 842 1150 791 1056 643 884 851 1308 432 1399 578 1251 455 1099 607 1347 515 828 841 955 856 1174 724 939 711 1223 516 1115 694 1340 569 1512 320 851 855 1277 578 854 843 1146 610 1040 603 1111 749 1281 493 816 879 1205 636 1390 476 1400 435 1129 840 1215 669 917 702 949 745 1503 402 837 753 1420 443 985 715 1142 563 966 712 874 905 1378 413 1205 573 1389 415 1205 563 1264 464 893 899 817 876 872 837 1366 484 835 800 879 780 883 877 857 864 1024 801 1183 630 1428 432 926 747 846 851 1484 432 907 695 1278 696 1441 385 1071 701 1518 367 1013 702 923 877 1375 559 1221 582 1007 631 839 890 1004 604 1200 562 1166 623 990 740 1075 858 1028 764 865 762 1211 521 1148 685 1381 489 1329 464 1067 565 1299 617 1200 536 1427 497 960 671 1006 740 1113 608 904 838 1171 640 1062 631 1279 643 1329 437 879 851 1546 347 1311 576 1290 533 971 627 978 767 1390 551 845 728 895 834 1187 855 967 865 1135 740 1142 853 1066 682 1324 467 946 763 1290 649 1074 781 1415 515 916 837 962 720 1022 720 949 754 1008 653 1056 761 1307 488 1247 644 1311 602 1154 763 1000 638 909 691 1467 393 1201 555 950 759 1009 746 1167 770 1103 645 843 893 1011 741 1166 596 1334 441 940 798 967 774 1078 631 1000 744 1350 529 1156 569 955 766 1119 780 1136 575 985 709 1183 699 1303 644 955 830 1005 717 915 660 1017 609 1311 602 1283 438 1437 448 1058 720 880 676 924 881 1132 673 888 899 1252 521 1006 790 1110 765 1073 641 1049 709 1356 534 839 800 1390 496 875 749 897 745 942 794 1374 516 1504 357 919 670 1151 730 1181 649 941 856 1269 525 1100 726 971 700 971 750 1201 533 836 863 1336 391 1326 475 1151 699 830 824 1248 495 1051 694 859 880 1013 657 1062 608 896 717 1462 434 1081 651 1333 427 1183 598 1054 659 1131 721 1128 623 1053 708 889 816 1354 434 1126 607 1127 715 1095 664 1077 630 1428 466 1435 420 1279 416 845 747 1056 779 1242 606 1155 769 1334 623 997 687 1374 456 1008 654 1102 751 979 748 1276 529 916 846 1322 661 1245 598 939 715 1294 617 864 803 1083 631 1337 429 980 661 1189 760 1120 670 812 865 1079 700 1546 311 849 752 927 801 824 769 1143 664 985 796 845 785 876 900 867 847 1231 547 897 761 1476 385 1125 769 1009 879 1415 562 1312 684 1033 646 1176 603 1204 658 1450 364 1483 366 1273 415 918 909 1182 601 868 822 1083 648 1293 513 1341 472 1042 823 995 716 1268 555 1421 363 1347 594 1242 617 1046 673 1017 674 1287 550 1222 549 823 791 1129 664 1503 405 1001 692 1481 397 1332 688 1155 814 920 738 1118 654 1469 403 812 868 1036 634 1034 691 1330 429 846 912 974 637 1419 448 1296 496 994 681 1309 566 1435 454 1496 389 1508 393 1147 744 887 817 1137 773 921 759 1148 601 865 772 1253 722 855 827 993 872 1372 384 884 705 949 673 1045 611 1033 863 1335 473 866 785 1079 761 1334 537 1316 479 1426 467 830 756 1533 307 1067 733 1416 488 1527 386 1087 650 1133 714 1105 646 1559 324 1124 597 1230 697 1082 774 1266 643 1250 720 1270 511 1168 494 1104 693 1015 826 1150 801 1152 742 1191 526 850 739 881 750 1279 484 1282 455 898 667 1298 527 1465 438 1464 452 1161 683 910 833 1309 613 1134 802 1416 504 1147 634 951 854 892 783 829 772 1404 439 1434 474 877 852 1238 641 1002 739 1386 387 1486 406 1095 677 1056 672 1412 438 994 814 1404 352 1473 396 958 729 1063 589 1294 617 971 838 1245 587 1082 857 1489 355 1373 387 1461 391 1173 590 1290 414 978 695 1256 495 894 823 1001 877 1233 610 1385 386 933 732 986 846 877 742 823 808 990 828 1095 615 844 847 910 718 1240 497 1377 520 841 761 1295 576 1010 629 1073 772 1474 432 1039 680 943 805 1350 484 955 699 1199 744 1188 737 920 864 1319 421 1212 689 877 854 1279 523 1047 718 1031 838 1283 569 839 748 1307 457 1173 756 1259 557 1301 494 1375 438 1371 384 995 798 1157 683 1141 751 1270 645 1340 556 1048 761 1155 677 1191 805 907 727 1406 393 1165 506 900 711 971 738 835 835 1003 633 914 828 1337 509 1293 574 987 663 1158 707 984 756 826 719 1053 851 1231 552 1176 563 1161 663 1080 568 1313 597 1472 443 867 925 890 865 1258 548 1305 465 1120 678 903 724 1026 712 1106 736 1220 587 1043 674 1129 607 1279 567 1243 518 981 752 948 861 1168 582 1369 532 1487 370 894 737 1275 533 982 743 983 624 1142 618 1445 374 1000 895 896 907 1018 578 1011 833 1402 441 1227 639 1268 511 1085 557 1157 603 1284 525 839 825 1360 394 1266 607 842 888 1249 689 1042 674 864 838 1256 569 1247 545 1199 575 1013 711 898 716 947 782 1069 584 996 786 1057 785 1013 814 1437 401 1123 585 1386 550 885 781 1320 494 1310 571 1213 550 1089 706 1414 397 1253 470 1100 633 1407 553 1543 337 1229 670 1028 645 900 897 1015 665 1450 394 1165 809 1020 716 1350 541 1077 641 1248 595 1536 353 1227 660 1272 655 995 645 1366 503 1047 824 1255 634 855 793 1082 575 1268 643 964 749 1149 812 1174 701 1234 638 1162 609 1093 663 1019 703 1150 693 884 774 988 778 1403 547 892 785 1116 584 1400 406 1329 406 979 898 1084 745 1012 864 969 823 1018 748 1407 500 1358 430 1157 606 1162 747 1098 848 1250 693 1326 424 1091 626 1304 573 1470 383 1233 540 1292 471 874 835 976 680 1020 660 1052 737 1292 463 928 790 972 893 1110 667 1351 547 1098 754 1311 584 1026 753 1067 766 1112 756 923 869 1027 626 1026 666 1171 559 905 879 1297 563 1289 531 1239 722 1009 642 1371 480 1030 906 1026 628 928 826 843 896 1216 605 1107 582 963 754 1049 678 1091 746 980 692 976 713 868 871 939 734 818 743 1047 612 924 847 1126 692 1456 500 1111 603 1067 706 1420 477 1162 620 1157 618 981 649 1380 586 1547 343 866 777 1028 773 1366 425 928 676 1274 455 1269 495 1210 712 1026 665 1220 576 1200 547 1269 655 1066 742 1206 580 824 746 859 738 942 724 862 803 1111 649 1258 552 819 757 1164 759 1323 395 1117 645 1259 506 1370 511 1074 779 860 823 953 824 831 758 986 675 1357 581 1205 721 1306 578 1322 618 1225 532 1006 772 1070 784 1015 730 941 768 1255 605 898 776 1273 643 1207 632 1396 580 1058 764 1366 564 1327 404 1121 738 1239 619 1049 756 831 877 1175 567 1007 603 1300 573 818 817 890 736 988 754 1079 874 1279 600 1421 441 1097 745 1343 502 1221 671 901 758 907 793 994 828 1407 539 815 910 813 818 1369 526 1293 696 1364 491 1252 558 1330 431 878 838 1171 638 1039 702 1145 723 1014 754 955 787 934 905 888 750 1053 859 1349 491 1169 453 1004 650 1418 428 1045 759 1093 589 1313 495 1073 681 978 715 1066 642 1153 642 1425 528 1291 538 1408 481 1130 714 1109 608 1070 770 925 723 1342 427 879 842 999 800 959 694 1163 738 1187 796 987 845 931 704 966 947 1025 775 1059 829 1314 637 1417 377 1219 627 851 849 1103 618 1106 599 1403 362 1018 697 1264 641 1316 459 1131 718 1119 565 894 704 855 921 1494 379 1162 732 985 836 1327 539 850 739 1458 355 926 704 1517 367 1002 772 1420 511 841 802 910 759 839 813 997 748 1290 541 916 707 902 825 1259 514 1160 689 853 885 996 643 1291 589 1152 649 1458 361 1303 465 1280 651 1333 470 871 748 1037 770 1334 380 1004 773 1093 842 1199 587 889 918 1249 540 1062 637 1390 483 1117 769 833 864 1288 537 1246 499 1465 353 1334 456 1164 706 1311 492 941 692 1419 422 1298 498 1121 766 840 733 1074 620 1037 658 1225 565 1523 313 1013 638 1446 440 1240 505 919 757 1234 718 1156 660 989 744 902 811 922 816 1381 472 1109 676 1164 677 1277 493 950 834 974 843 1307 502 1011 783 914 719 1331 466 1008 755 897 762 1205 549 981 622 909 777 978 620 1203 698 1001 768 870 730 1121 709 1000 725 917 671 1129 819 1034 658 1170 776 1287 503 1106 784 1376 488 841 875 1274 519 874 820 887 871 1208 489 1362 508 980 676 1128 688 1299 546 935 662 1072 624 1180 551 1315 397 1168 623 911 858 1349 434 1333 516 1267 458 1274 537 1098 587 1217 720 1562 322 1498 405 936 863 1209 649 1381 452 854 831 1169 522 891 748 934 706 1041 808 1158 592 1149 766 1126 574 1474 352 1129 691 1274 497 1026 773 1282 436 1285 622 1230 611 1290 534 1167 541 1370 484 1351 473 878 863 1094 683 894 803 1466 401 1086 818 957 742 1355 516 872 701 916 802 1236 435 1128 528 985 846 1170 641 949 887 1011 757 1192 585 1395 394 1253 482 1212 682 1284 617 1052 745 1508 370 1192 631 980 712 837 773 889 798 943 814 1275 443 1336 595 1437 403 1212 574 1004 720 1356 385 1470 403 1249 618 862 799 1072 590 974 717 1453 453 1333 592 861 772 1191 640 1516 324 1138 587 1401 415 1334 510 1107 654 1090 556 921 731 1038 751 939 688 1362 571 1187 547 1449 390 1071 762 1252 605 1351 415 821 921 1019 770 1087 816 1441 344 1383 536 870 835 1472 408 1202 592 862 765 1244 598 1370 472 980 661 1019 691 992 857 1252 531 1264 442 1305 445 1433 416 933 680 1257 532 1214 588 983 842 1499 377 1111 578 1464 374 1494 391 1411 489 1100 618 993 624 1176 638 1094 804 1105 578 971 622 1359 435 1273 664 1379 384 1143 606 876 882 1376 433 860 826 916 861 1458 457 1161 631 1234 435 1341 367 1227 586 1091 745 1149 567 1064 683 1170 687 813 826 1129 651 828 861 887 917 1362 445 1223 543 933 861 1284 556 1110 875 904 808 1442 459 889 873 826 925 979 861 872 765 823 814 1219 533 902 901 1162 710 970 743 1454 392 954 912 1136 667 1276 526 1012 595 1350 537 1014 827 1058 709 1083 791 1076 563 1190 605 960 824 1023 706 962 803 991 855 1296 468 1203 500 1481 338 1466 463 948 767 950 741 1419 457 906 879 1295 567 939 752 909 746 1088 685 1240 536 1361 432 949 604 881 747 1319 499 1095 801 1191 716 1175 575 1295 633 1526 323 1216 685 1044 824 929 830 883 826 1245 462 978 649 992 726 1091 673 1140 639 1075 670 1472 409 1004 668 1186 553 823 849 856 725 944 893 994 845 1104 728 1168 564 923 868 1171 567 869 834 1061 728 1323 525 1109 654 1228 599 959 715 1256 529 1515 416 1217 621 1508 353 1352 644 1300 652 1112 659 1168 687 973 657 1387 452 821 831 1323 604 1454 463 1024 589 1325 545 1082 762 1371 448 1203 482 851 810 1051 813 825 899 1286 649 1384 447 1547 294 1139 807 1060 613 1138 750 1091 906 1001 737 1422 473 1062 702 1407 492 1164 581 1363 489 1227 535 1106 760 1262 687 1269 645 1382 382 1101 694 1141 722 1297 463 1133 781 1198 718 966 788 1500 380 1208 647 1217 526 1283 628 1315 440 878 782 1047 579 1184 692 1540 310 1134 769 813 846 1491 410 1154 753 857 853 1032 718 1476 439 1024 620 1157 587 1022 872 1193 788 1116 782 1023 782 878 776 995 682 1198 675 1132 757 1091 667 1167 515 1050 838 1135 819 1168 599 1261 554 1483 348 960 633 1500 332 1517 339 1330 602 1261 513 859 756 1309 489 1192 614 975 738 970 792 1025 841 1018 625 1065 600 1142 571 1317 582 1064 795 832 900 1244 691 812 805 1107 715 1220 589 1194 524 1335 628 1459 453 1025 827 1269 585 1378 453 1360 427 1322 485 1137 753 1312 645 967 901 1132 738 1151 666 913 710 1378 428 1091 723 1064 786 1176 539 1179 734 1029 809 1246 715 1007 604 1148 777 821 835 861 889 870 792 1196 668 1133 693 1042 589 1048 720 1410 448 1269 471 988 769 1036 793 1469 434 1054 742 1128 669 1275 554 961 776 1216 554 965 749 1374 507 1075 857 1501 379 857 740 1144 639 1097 674 1000 789 897 769 868 777 1339 510 929 777 834 753 1159 573 958 716 1047 720 1333 516 1185 666 913 690 900 781 1183 572 1359 545 1108 622 1233 630 1318 408 920 737 1221 647 1501 392 1241 724 1255 514 887 834 1170 630 911 860 1258 586 1111 714 852 758 956 738 1059 636 910 794 1025 816 1566 331 957 696 1168 610 815 814 1463 386 1360 520 865 832 922 901 1178 572 918 837 1016 750 1314 520 1244 694 1210 563 841 796 952 650 894 889 1162 657 1284 529 1113 744 1329 512 864 846 913 770 856 838 1069 672 943 739 1437 404 917 755 1327 496 859 835 968 708 1030 763 1422 484 1478 417 1220 673 1057 683 1381 540 1152 573 872 791 1038 776 903 868 1329 470 960 836 1032 773 1213 548 1160 749 1303 416 1289 479 1440 433 1142 765 1053 815 850 748 903 759 947 627 883 806 813 813 1083 712 891 913 1018 808 1009 728 1073 654 1147 598 1019 654 963 942 1225 558 887 715 1032 768 916 754 830 973 1343 421 1287 562 1372 503 1213 580 1349 420 1084 640 1116 756 1115 593 861 873 1367 491 1368 394 1515 409 1371 426 1445 343 1502 449 1064 788 862 788 1160 728 1306 492 1476 420 986 680 1027 631 1478 410 1331 478 927 746 1489 329 833 812 817 889 937 627 940 728 1000 703 1186 563 1432 472 1080 826 952 715 1097 580 911 949 1389 580 1024 691 1170 590 1428 393 1125 616 1106 614 1197 704 1382 417 882 791 1238 593 1028 658 914 893 1408 419 1435 369 906 803 1112 598 1542 380 1256 698 1068 734 927 793 1518 299 1191 628 1058 662 975 786 1454 363 1218 620 818 850 1208 595 1303 438 1125 631 899 829 1049 714 1112 621 1148 726 880 866 1030 720 1112 727 965 683 849 728 869 727 1129 623 823 712 901 875 1003 722 1054 637 1088 640 1071 636 862 715 1414 396 1366 462 1065 637 1404 491 1385 552 1394 439 975 844 1128 594 1492 431 1137 567 1349 407 1148 529 1398 444 1131 592 1304 499 891 763 1183 513 832 863 1188 556 1201 669 1440 354 922 738 1446 450 1402 469 1162 562 863 816 1444 397 1157 511 981 785 1159 715 1102 523 878 795 1122 814 846 849 871 784 1308 497 1090 607 1487 371 1294 519 932 795 1173 569 1351 519 972 667 1113 584 1478 400 1062 810 1060 686 1011 821 1313 493 1134 626 1048 852 1435 447 1449 356 1254 508 934 705 1186 654 977 787 1278 597 1185 566 1292 500 1179 701 1251 505 1489 438 1119 572 1440 473 1042 680 948 736 1549 307 1228 564 863 825 1393 401 1265 514 823 791 1124 870 1574 349 1070 580 1462 414 1088 786 1327 646 1378 513 1176 635 1132 615 1308 521 1023 627 1112 800 1098 609 1368 452 1433 365 930 800 1369 427 1035 798 1087 598 850 728 1273 507 1159 754 1039 654 1084 557 1421 431 942 927 1095 600 1140 587 1370 331 1444 457 980 815 867 761 930 744 852 835 1047 791 970 726 811 858 1371 546 1389 467 912 853 979 683 1508 371 1308 616 1142 591 1026 798 1156 728 1290 389 890 811 892 862 861 840 976 747 1417 495 854 764 1166 545 1307 587 1054 647 1444 412 1075 630 1348 403 909 668 1259 545 967 740 1084 843 1162 647 1140 600 1479 367 1318 611 877 798 1258 478 931 825 1045 599 828 865 894 768 1264 487 1035 603 1485 399 1149 699 1346 598 1535 347 1505 409 1117 684 1171 641 905 862 1216 565 1039 682 1309 475 1166 637 1156 548 1309 409 1354 483 1204 602 879 814 1120 616 1397 369 1277 461 1180 696 856 753 1497 404 831 805 906 782 859 758 1198 643 1114 765 1448 417 1200 626 1162 654 828 813 1470 368 1097 725 985 821 1124 620 1461 401 1291 437 883 726 1155 743 1080 808 918 691 1228 505 920 760 1253 516 1189 546 964 856 858 881 1192 754 1186 726 1017 647 980 659 1284 636 1159 672 1095 587 1095 778 1436 330 822 762 1400 549 1087 624 835 807 1252 535 920 697 1112 547 1081 775 1444 455 1241 608 1401 518 1388 374 1235 452 1414 446 944 804 1312 431 1216 562 1455 486 1224 502 1248 673 1141 705 1221 633 1164 618 932 669 899 719 1149 809 1162 614 1343 577 1316 463 1311 525 1218 617 1034 694 813 779 1401 528 1263 524 1443 438 1258 511 819 900 892 924 932 839 1032 750 1123 742 966 714 1550 310 832 844 1085 660 1061 849 1290 534 1095 538 880 937 1030 629 1238 486 1376 468 1404 503 984 668 1402 453 1435 416 1100 600 1082 723 1055 772 1228 469 1506 284 1255 590 1131 541 1002 816 1455 471 1194 701 1369 542 1154 626 987 693 1325 468 1497 367 1042 671 1312 417 1053 643 1325 453 944 855 1267 642 1431 500 1023 885 838 836 1454 423 1161 648 969 779 841 715 1032 721 1165 759 1133 626 1014 785 1194 523 1303 595 1068 726 1269 525 1453 465 880 834 951 908 1208 566 1269 591 1389 453 1015 721 1341 412 1512 360 907 826 1454 421 1387 578 1008 769 1194 603 1195 673 896 785 1050 747 1029 854 1309 567 1481 320 847 902 1349 587 1184 561 1278 476 1260 547 1309 642 1279 517 1070 722 1434 425 992 632 1361 436 1191 648 864 859 1153 464 914 748 1337 557 1224 651 1249 451 1417 505 1444 498 1292 586 1428 429 1481 381 1352 506 869 775 968 666 1321 564 1005 743 1257 460 1045 664 1195 608 1548 322 1321 513 1050 729 853 764 1247 510 1117 637 1461 371 1318 492 1193 610 1170 669 1236 490 1202 584 958 726 1356 391 1009 791 935 734 1039 703 1159 554 1059 876 865 690 1174 564 1282 622 1424 374 827 960 1002 700 950 762 1099 788 901 925 1085 669 1222 666 935 664 1302 413 860 906 1108 753 1205 651 1424 471 1038 765 857 927 1335 421 1391 520 1088 832 1325 568 1412 429 899 784 1393 470 819 748 1066 575 1084 771 1312 482 1413 500 1457 449 1220 530 1419 518 1325 456 867 924 1374 482 1019 704 1127 710 866 868 1258 488 1170 694 1172 650 1236 483 1107 809 943 703 1036 763 987 805 952 821 901 896 991 883 1018 971 1257 607 1423 516 973 811 1165 528 1269 518 977 607 1117 613 1407 513 1284 615 1052 617 1094 589 1057 662 1096 673 1333 615 945 907 1167 703 1049 747 1230 549 1166 648 822 887 1314 474 1168 703 1080 572 847 799 854 913 1378 430 1178 642 1086 769 1390 346 1093 689 828 810 1231 584 1136 564 1207 668 1137 610 944 796 1068 674 1297 455 1156 725 1226 722 1323 491 1306 485 997 641 1017 906 1013 799 1061 697 1274 641 1383 493 894 833 1004 680 1232 506 1145 767 1313 460 1179 606 1406 465 1296 532 1094 642 1089 820 947 873 1333 565 1469 407 1410 512 1164 543 1387 385 843 710 1016 668 854 807 1136 655 865 725 1145 529 900 736 1400 468 1349 515 1057 677 1223 508 1224 636 1174 679 1397 430 1220 527 1083 799 1048 665 945 776 836 849 983 879 1185 531 1279 592 813 850 1467 430 1425 403 1209 601 1491 358 849 848 974 878 880 818 1275 603 1407 536 1473 405 1198 706 1071 637 894 854 940 727 1046 634 962 868 1499 422 951 810 839 875 917 845 833 779 832 818 898 767 1311 574 1244 625 864 808 1132 705 1157 589 1352 488 1153 660 1482 422 1456 386 1229 633 1276 500 1295 581 1518 359 1172 612 924 691 1073 592 1175 503 1003 756 956 676 1271 582 1441 454 1197 646 1057 605 1496 420 1256 519 1502 433 1455 431 1102 600 1177 571 1064 713 1133 660 1196 725 1003 653 1081 862 1348 550 1270 649 917 857 895 740 1349 577 1035 815 1441 364 1014 718 887 835 1409 513 1074 616 1198 527 1018 746 1199 559 1270 397 1503 289 849 872 1459 343 1158 535 913 890 1486 439 1310 568 944 646 1249 531 1388 448 1062 730 849 811 836 741 834 891 1491 352 1134 582 831 869 842 828 1204 570 1305 526 1391 505 897 741 1118 614 987 759 1418 570 1406 433 921 801 1541 354 1140 720 1403 537 906 896 988 770 901 836 1064 645 1198 622 1027 687 985 720 1314 467 1298 589 1230 467 1214 511 1495 374 1474 354 1228 503 1035 742 1100 737 1232 573 1337 524 1052 645 1256 457 1265 563 1143 616 1192 691 1464 478 971 759 1377 404 1303 479 902 869 977 836 972 703 1135 613 1033 627 1154 541 1157 688 1529 375 1124 585 1418 427 1466 436 1372 456 1329 473 1312 416 1060 709 1293 557 1352 583 1093 658 1253 513 966 647 907 747 1479 398 1159 697 1343 454 1467 373 1245 615 1300 444 976 699 1271 460 1392 550 966 704 896 674 1306 479 826 871 901 762 1036 902 945 845 1467 431 1144 673 993 827 827 819 1155 688 1147 653 1037 750 1134 583 1135 605 945 721 1400 426 1090 787 1050 726 924 853 967 744 1214 480 1003 668 945 927 1132 755 1283 594 974 633 1028 628 811 804 1114 657 1397 507 1418 451 1321 520 948 857 1026 820 869 886 1154 757 1227 525 961 777 1424 442 1160 653 978 667 1017 662 1233 547 1052 761 925 846 1107 810 951 717 1239 656 1080 754 984 721 915 777 893 790 904 756 1048 920 1058 608 1309 529 1028 675 831 851 998 690 859 732 1026 720 1124 668 991 778 877 782 1180 606 1333 432 1330 646 1060 777 1096 900 1351 418 1169 563 1004 766 1374 457 1494 437 1335 560 1213 627 1420 407 1404 565 1066 588 1403 518 1248 663 1015 604 1314 471 992 883 858 882 911 663 845 747 858 776 938 810 890 889 1097 745 915 861 1299 503 1212 652 979 822 1443 368 876 807 972 745 1047 628 1409 496 1160 544 1244 555 1228 470 1394 442 992 808 1311 456 844 909 959 712 1072 651 1026 758 867 805 1445 413 1265 655 1079 653 1005 670 873 888 1347 544 983 680 1461 387 992 792 1518 316 1348 473 1256 486 1514 387 1113 561 1035 794 877 820 1377 450 897 848 866 773 1173 581 860 900 913 688 1006 678 987 631 882 850 1121 643 1042 647 1080 704 1217 595 973 712 1368 452 880 853 1055 781 1244 562 1198 712 1257 636 1461 392 1068 639 1087 637 1470 429 965 881 879 897 1251 558 1357 463 978 859 853 814 1234 519 1394 543 1382 565 895 742 1046 772 1143 765 865 793 1006 742 1042 657 970 742 1114 682 1144 481 1201 475 1348 393 1010 795 1158 704 913 744 1174 615 898 880 1250 527 948 789 1090 718 1417 503 941 821 898 708 1274 528 1179 589 1389 596 914 731 1480 342 1205 599 1457 439 937 839 1376 431 1209 766 1166 628 1413 475 1403 464 1446 517 1428 462 1078 726 1165 625 1404 471 919 725 837 895 927 820 1113 528 968 727 1153 739 998 755 970 668 979 826 950 855 1532 378 1047 871 1016 834 846 811 1088 655 1285 483 947 740 1464 383 1268 637 1324 529 1170 532 1348 437 934 731 1121 780 833 754 1157 615 1031 654 1160 609 1392 509 1071 757 1154 591 1490 441 1182 663 1348 563 1245 512 950 754 1423 470 1039 581 1375 425 1090 661 963 820 1209 621 954 828 1263 576 839 760 1192 703 1262 608 952 654 855 752 1198 557 1443 445 1447 515 960 750 1493 394 932 716 1131 783 921 765 1312 450 1437 477 1020 656 1474 450 1226 610 1283 596 1312 668 1469 430 1227 613 1233 672 982 673 1428 479 1300 491 1457 428 1207 528 964 767 1210 686 1156 691 932 769 1010 732 1495 324 1518 436 1145 582 1052 700 1265 706 837 892 1445 400 1089 806 867 846 1068 892 1289 498 826 878 1396 547 1045 702 1113 733 1018 880 1181 552 1036 709 1020 929 1142 738 1066 791 1388 474 1029 632 895 769 1240 579 1298 541 1449 407 1052 626 1095 726 1274 638 1084 726 1553 321 1112 671 929 807 1317 622 886 816 1034 820 926 828 1306 628 1349 411 1293 448 1082 676 1301 623 1415 430 1020 714 1031 788 1365 459 1368 437 1025 769 1187 717 1193 520 825 802 1185 545 1402 423 1330 504 1332 515 1415 444 1198 729 1325 443 1480 351 1348 595 1174 511 1055 742 1167 629 1349 556 1479 486 890 754 1224 542 1131 817 988 701 953 810 1347 550 944 944 1421 437 1224 498 915 858 1299 585 1133 783 1154 519 1357 410 1513 325 1052 723 1256 588 882 813 1136 624 1141 702 857 819 1084 700 1285 501 841 728 1010 787 1230 568 885 788 1298 601 1114 637 1470 402 1227 628 1144 713 1407 379 1157 583 1002 745 1183 597 958 720 1086 668 1068 699 1531 324 1145 548 998 644 961 762 1333 506 1210 513 824 939 1088 584 865 800 1296 596 1457 473 1351 477 963 738 934 857 1337 549 1511 348 844 887 833 870 1315 553 1206 629 1545 326 1179 760 1126 590 1176 629 1314 510 1408 411 1399 386 1217 594 991 863 897 883 1212 648 1206 574 927 845 1096 778 1223 682 1127 645 1219 598 1170 628 841 724 1267 647 1023 652 1151 677 1183 610 888 924 1278 619 1140 631 940 745 958 848 1188 551 1348 542 1356 450 1108 775 988 821 1072 613 1163 648 1298 660 833 867 1154 646 1227 658 856 763 1492 413 1476 367 1393 575 1447 436 916 834 1426 373 1018 741 1046 779 852 792 1423 415 1229 656 1438 443 1550 294 1270 553 1189 559 1178 801 923 738 1102 645 1174 600 1086 596 1388 479 1103 712 848 708 954 835 1154 578 1278 576 1412 439 1078 609 1241 669 889 886 1071 766 1030 641 1545 330 912 790 1199 572 1272 550 818 908 1127 631 1372 490 1000 679 1207 742 1181 808 1462 417 1377 389 973 810 987 638 1255 631 1483 435 930 767 1463 363 1338 635 990 850 1152 672 1038 665 952 624 1095 686 941 858 943 698 1155 625 1242 593 892 833 1204 618 1459 437 1341 524 1314 614 953 621 862 790 1041 674 1091 574 958 741 939 846 955 843 930 809 831 750 847 716 872 751 1202 675 872 790 892 762 1052 737 1181 541 1327 520 1276 621 1120 689 909 794 917 793 1509 324 1008 668 1064 799 1331 522 940 902 842 815 1215 667 1464 442 1463 334 1232 667 1005 756 939 692 1313 639 1085 636 1169 628 1556 326 1017 908 1343 465 1052 680 1069 733 1397 478 942 673 1423 457 1073 792 1349 501 1251 553 1318 588 1011 609 1045 630 1338 455 999 834 1307 563 1435 437 1276 493 1338 583 1061 633 1267 449 856 822 1154 643 1352 481 1185 646 982 662 1190 715 872 874 826 837 1028 748 825 849 1203 669 1219 641 1105 589 975 797 904 835 1151 582 1463 414 1324 575 993 659 988 750 1200 720 1326 566 954 692 1357 437 1393 499 1284 598 854 896 1458 440 854 892 1292 495 830 903 1233 660 884 914 1430 461 866 825 1148 613 1267 595 1468 440 1157 508 875 796 1022 807 1365 500 936 785 972 683 1115 792 1056 599 1343 491 1474 455 1185 596 1184 640 1113 658 906 873 1263 622 880 858 1007 623 956 686 1189 543 1492 368 1280 692 1493 356 978 752 1372 512 1137 651 1152 663 930 860 1428 457 880 776 869 918 977 678 1190 620 1208 691 1415 365 849 766 982 763 999 828 982 749 1108 773 1409 418 1324 408 1226 583 1117 691 1335 582 1146 615 888 781 898 634 1323 482 1182 492 923 931 1279 607 1069 701 813 789 1112 587 934 754 1223 534 1009 681 913 761 870 866 1354 442 1106 740 1135 622 1359 475 1164 579 985 782 1191 741 954 817 1188 621 816 817 1423 497 826 809 1111 689 995 817 1151 595 1097 563 1503 402 1508 397 1272 671 854 920 1070 766 1529 353 1477 419 1108 602 1498 390 1295 523 1101 628 1139 605 1310 493 1001 726 1158 627 1326 498 854 821 1273 454 1063 580 979 736 1348 408 1079 622 824 905 1513 401 1371 467 1118 606 1158 686 1410 456 1418 376 865 716 1416 391 1070 689 1245 560 1092 615 1241 585 1075 702 1225 532 1233 529 1220 697 1118 539 916 739 904 849 932 841 1138 679 1095 751 868 778 1405 565 1130 668 1100 652 835 942 1435 506 877 765 900 747 1228 659 996 741 1168 603 1212 564 1004 820 1002 627 1320 527 986 614 1480 437 1259 500 1210 650 1370 419 1303 472 895 880 1174 627 1079 696 1174 679 1200 552 1127 631 880 817 1229 505 1192 609 993 756 867 778 1432 448 1246 545 1140 623 1132 619 918 748 937 794 1322 546 841 873 1046 817 1473 318 944 793 918 785 955 913 951 686 1216 713 972 754 1109 587 1391 418 893 682 936 858 937 751 1149 629 1107 696 950 694 1186 639 1177 525 913 676 1105 696 1166 590 1180 574 988 778 1011 877 913 857 1034 709 869 767 1011 705 924 734 1272 569 965 859 877 792 1074 640 1004 636 860 825 1272 670 1491 450 1082 582 932 697 1020 857 1418 466 1414 447 1330 599 985 673 1218 566 1134 593 958 903 1295 568 1232 510 1486 347 837 874 1531 342 1250 463 938 669 1333 486 1354 558 1057 767 1334 416 1140 641 1375 346 1421 394 920 715 1088 573 1457 448 1002 832 914 763 1384 569 814 874 1407 461 931 740 1072 648 1377 483 817 865 1315 448 878 854 1211 619 1051 705 1082 655 1379 506 1201 587 938 721 926 752 1063 776 1082 694 1015 748 1119 646 1013 799 880 810 1307 608 1204 726 1396 373 1199 569 880 789 1010 713 895 838 1275 552 865 766 1065 645 876 699 1270 506 953 760 1139 535 983 720 1032 622 1135 741 1136 835 837 731 1136 663 1016 749 959 761 839 812 1177 680 1050 653 1154 618 963 780 929 715 837 748 989 707 954 777 1140 579 861 726 1443 494 1444 348 1262 562 1408 452 1346 487 1126 713 1223 731 977 639 1273 626 1099 788 1217 675 957 767 1446 310 1070 580 1451 411 1012 631 1209 668 1350 517 1078 575 1275 538 919 732 1272 543 1283 641 969 675 995 718 1231 579 1104 784 1125 552 1298 649 912 840 1087 608 1037 761 1306 437 1231 605 821 901 1160 729 986 893 1006 649 844 689 1080 626 1090 729 874 799 1341 466 1138 741 1240 521 980 677 1303 408 851 837 999 866 967 755 1187 575 1141 646 1082 720 1257 640 1257 492 1308 630 1395 446 1451 366 829 860 1342 523 1410 442 1033 853 1243 563 994 725 865 805 1086 783 823 825 903 723 1430 391 1416 431 1284 615 854 912 990 670 1379 472 1208 579 1412 494 1237 543 814 840 1164 791 1180 528 1281 668 1091 580 1211 689 1202 637 988 678 1289 553 965 631 1022 607 856 885 1503 376 1415 474 974 678 1402 469 1194 700 1196 639 1477 427 1029 792 1156 547 1510 417 1173 613 976 751 1239 520 1454 520 1137 676 1201 708 1006 624 1075 770 1272 608 1282 686 1161 587 1126 631 1232 679 1207 528 1084 660 829 829 1007 776 1329 532 1264 628 981 821 954 731 1455 407 1220 662 982 669 813 809 1037 612 1191 583 1388 509 1030 643 1187 733 1421 469 1416 371 1368 538 1212 648 1186 563 1262 627 1071 716 1286 558 828 823 1446 431 1263 659 820 836 1257 537 1172 526 1195 584 1216 687 897 768 840 836 951 851 868 765 954 822 1268 491 1026 721 1168 793 979 724 1381 561 860 781 1154 596 1150 708 1310 469 1392 403 1281 498 889 849 1298 445 1110 689 981 582 1295 577 1324 451 1116 589 1354 418 1343 502 1303 573 1238 591 1166 729 1127 632 1107 734 1056 742 1009 784 934 741 884 751 895 770 1416 494 1417 401 1112 646 1433 378 1342 477 1107 672 1457 471 1025 695 1178 697 1480 378 965 713 1352 492 1048 664 1047 820 1355 408 1010 820 1064 584 1092 733 989 749 823 787 1507 398 820 867 1104 664 1171 621 1128 614 1076 709 833 850 1221 553 854 776 1033 699 872 805 1103 845 1489 442 959 692 1121 787 1129 696 1507 376 1339 529 1147 611 1105 666 1494 292 1550 334 1389 523 1322 695 1346 449 1512 325 1316 479 864 801 852 853 1414 528 1367 475 1173 583 1352 488 1456 429 1153 734 1340 453 1115 796 1047 821 1063 614 965 874 901 734 1473 462 945 634 1402 346 937 752 922 770 1076 739 1317 434 958 728 851 811 1444 436 1472 433 1076 814 1114 628 1255 568 1278 588 1214 653 1211 516 1143 493 1005 813 957 831 1316 453 1194 675 1242 681 981 671 1526 318 1203 659 812 881 1199 698 933 641 1018 807 1070 776 840 812 840 767 1106 807 1267 638 1134 780 933 820 846 784 1191 685 1188 542 927 779 1149 695 1274 533 1515 375 1384 408 883 842 858 917 999 678 1333 526 1419 385 1473 378 950 884 1142 580 948 692 1094 639 1293 472 1366 466 1091 798 1170 779 1182 571 1463 450 998 750 1280 720 1256 550 1113 630 890 801 1281 580 1400 481 1187 677 1062 711 1428 384 1008 837 1519 404 1404 420 1075 759 814 785 1142 793 822 855 1121 762 1214 542 1368 415 817 890 1035 590 1050 608 1178 570 996 703 1261 421 1192 588 1083 622 1102 682 822 836 939 702 1507 362 1020 847 1031 774 1130 689 1254 496 1462 413 899 709 1176 511 1028 947 874 746 1035 622 1219 634 936 757 1180 629 1423 478 1044 641 1252 483 1306 461 1119 806 1475 349 961 728 1301 485 1537 355 967 823 1211 600 1134 727 1055 642 1129 641 1092 795 1236 548 1456 478 1057 666 814 773 1355 469 1238 583 1069 798 839 886 1442 519 1192 612 1143 643 1281 555 1160 660 1448 454 1347 539 934 730 887 745 1395 481 1436 413 1155 747 1045 751 1289 514 1279 600 1392 453 1474 495 1250 596 1135 571 1056 650 1233 528 1104 798 901 756 1465 383 813 809 1505 403 1487 380 1191 632 1104 635 907 794 1356 487 1326 596 849 828 1270 577 847 736 1128 587 1035 877 1039 685 1270 541 979 692 884 910 835 864 1309 562 1273 470 986 723 1038 809 1227 583 855 808 1340 410 1154 671 1089 739 815 851 1400 518 883 889 1333 499 1265 533 1250 496 1063 630 1111 591 1272 466 1328 590 902 859 1409 474 1108 622 1197 590 1249 557 1154 553 1001 781 1170 651 1086 665 1084 750 1192 615 1415 495 921 684 873 815 1080 654 1093 788 1268 596 1066 557 1126 762 1076 876 851 831 1119 738 1439 479 1107 655 1261 747 1023 662 814 913 1460 430 1256 555 904 696 1486 405 1377 455 924 807 1214 684 1305 552 1045 838 1360 720 1334 734 914 984" fill="none" stroke="none" marker-start="url(#g)" marker-mid="url(#g)" marker-end="url(#g)"/><path d="M1383 340 1189 654 1158 620 828 848 1458 320 1079 609 1467 400 1455 326 1413 424 1271 439 903 720 1080 744 1550 339 1003 761 1074 603 1396 444 1542 283 1291 581 1126 640 1286 599 939 728 1310 595 1319 453 1059 755 1157 621 1235 544 1356 391 1111 661 939 782 1262 485 1224 464 1079 697 1075 588 1488 364 1267 506 1340 458 1275 569 1443 353 1555 343 1441 476 1297 455 1117 755 1245 452 1461 340 1186 600 1138 625 1298 541 1523 278 1504 295 1248 600 1425 367 1098 612 1264 625 1191 676 1534 282 1176 616 1135 798 1452 336 1362 362 1388 365 1315 453 1158 611 1330 426 1202 541 951 797 1367 419 1192 507 1166 487 988 843 1134 513 1080 629 1466 411 1058 590 1258 664 1329 427 1088 659 1055 700 1528 324 1340 399 1204 567 846 763 1526 303 1093 680 1187 501 1442 312 1209 464 815 735 1280 527 1147 767 1059 588 960 904 1060 706 1121 466 1390 473 831 672 1314 451 1241 542 1235 535 1385 488 1429 396 1127 666 1096 788 1065 566 1323 611 950 668 1115 610 1293 453 1184 562 1109 719 1418 508 1073 606 1323 513 1510 407 1268 701 1320 427 1404 414 1081 637 1545 361 1260 512 1292 554 1493 340 1447 378 1265 515 1213 555 1423 317 1079 727 1100 724 1328 409 1163 757 1423 344 1367 499 1229 657 992 602 1165 703 1387 386 1146 692 1401 468 1067 752 1358 361 1311 401 1437 315 1525 309 902 781 1337 499 1373 313 1147 638 1374 403 1495 340 1494 298 967 839 1328 501 1316 450 1347 381 1381 379 1272 469 1429 495 980 678 1148 661 994 773 813 871 1400 342 1115 684 1427 513 1217 600 1123 645 1305 541 1176 472 1156 667 1136 807 1089 560 1349 492 1221 687 1252 582 1433 466 1396 382 1448 342 1093 641 1551 313 1285 446 1126 594 1177 614 1217 541 1178 504 1412 368 1204 520 1296 619 1458 413 1288 541 1060 646 1128 771 1093 647 1021 733 1125 752 1539 317 965 706 1495 304 1315 482 1504 320 1503 337 1195 581 1150 720 1103 695 1503 308 1138 512 1365 543 1507 319 1439 352 1458 397 1399 451 1201 513 1419 347 1170 508 1255 481 1542 368 1183 582 1056 584 1133 490 1262 593 1395 586 1127 734 1051 772 1480 316 1293 610 1191 671 1228 497 1271 520 1165 552 983 632 1056 588 1236 554 843 825 978 694 1236 617 1143 545 1486 478 1479 282 1162 566 1202 577 1218 525 1480 322 1235 618 1208 506 1306 467 1078 631 1280 562 1094 542 1179 568 1243 459 1249 533 1297 465 1439 299 1190 637 1103 717 1151 441 1320 433 1051 806 1080 561 1368 367 1139 580 1280 433 1077 697 1115 776 1014 754 1268 583 1142 584 1341 361 1485 303 1247 508 912 779 1179 486 1206 702 1380 452 1457 334 1151 518 1034 677 1076 762 1244 484 1049 712 1228 547 1347 400 1360 502 1420 413 1322 466 1305 508 1455 339 933 715 1186 450 1340 386 1387 466 1400 414 1432 356 1197 605 1043 614 1167 590 1163 520 1395 379 1348 508 1344 521 1502 360 1109 522 1063 670 868 846 1285 496 1059 622 1282 525 1347 347 1153 736 1331 414 1201 648 1154 539 1063 697 1161 680 1327 379 1155 662 1519 336 1473 392 1126 789 1251 679 1131 619 1288 532 1446 392 1179 550 1382 412 993 648 1196 494 1080 723 1490 375 1181 633 1503 280 1218 548 1298 450 1253 564 1377 435 1271 619 1166 491 1304 544 1185 563 1254 464 1155 569 1000 767 1070 880 1004 780 1342 568 894 723 1236 518 1344 387 834 888 1127 767 890 853 1220 554 1525 315 1249 512 1309 630 1047 557 1417 365 1012 872 1220 603 1207 623 1270 503 1485 368 1432 449 1094 640 1185 667 1532 374 1173 702 1072 735 1357 465 1465 361 1335 411 1271 553 1415 337 1501 340 973 805 1215 451 1163 600 1185 503 1468 382 1253 460 1524 287 1014 605 1554 266 1113 673 977 678 1292 624 1089 684 1065 809 1210 577 1128 585 1057 686 950 696 829 852 1153 548 1253 623 1141 546 1497 294 1304 411 1381 354 1371 402 1219 498 1205 523 1412 369 1487 328 1182 549 1362 352 1220 572 1271 627 1373 392 1452 423 1479 326 1187 666 1442 445 1089 553 1440 440 1166 464 1455 332 1288 484 1004 672 1179 755 1409 343 1162 573 1263 431 1533 423 989 607 1528 339 1313 386 1327 444 1379 396 1435 334 1152 503 1152 586 1461 271 979 713 1368 416 1207 496 1342 429 1318 430 1062 672 1155 625 1339 578 975 710 1094 570 1238 582 1375 530 1355 445 1121 652 1134 541 1013 634 1457 408 1057 581 1213 638 849 738 1467 335 1221 508 1410 354 1273 482 1247 505 888 792 1206 548 1182 547 1176 489 1266 452 1179 580 1595 286 813 816 848 806 1347 403 1505 302 1087 599 1072 722 1169 653 1378 365 1232 552 1317 492 1406 417 1214 574 1220 486 1325 443 1304 479 1086 647 1050 597 1157 723 1433 376 1421 309 1207 661 1337 518 1433 449 1420 356 1271 586 1128 700 1440 359 1354 523 1476 418 1517 319 1104 690 1101 597 1272 490 1060 689 1214 489 1327 309 1282 449 1335 427 1437 428 1114 670 1360 369 1192 478 1269 594 1146 526 1465 319 1425 394 1230 449 1151 654 1040 680 1498 369 1267 594 1189 612 1381 381 1317 588 1515 327 1471 340 1170 563 931 739 1093 703 1249 433 1084 671 1044 766 1484 353 1306 425 1053 630 1040 724 1285 463 1320 462 1246 486 1469 366 1489 305 1366 439 1059 618 1121 504 1219 540 1089 721 1119 529 1173 583 1525 309 1040 719 1318 404 1371 514 1170 589 1283 555 1475 454 1036 647 1493 332 1354 474 1155 635 1175 556 1157 754 1136 608 1468 360 1069 618 1112 780 1328 426 1165 698 1386 477 1413 350 1067 762 1313 418 956 740 1223 619 1470 330 1096 636 987 639 1134 607 1269 498 1163 742 1116 685 1484 328 1286 534 996 856 1279 482 1158 573 1062 813 1305 563 966 766 1262 541 1444 331 1113 738 1196 684 1027 608 1120 734 1172 588 1189 506 1061 638 1047 832 1411 378 1396 365 1579 289 1112 638 1255 544 1204 574 1269 517 1426 406 1318 565 1152 599 1299 524 1537 294 1427 419 1371 500 1099 700 1052 694 895 836 1179 460 1061 703 1535 323 1294 483 1007 607 1121 609 1185 557 1345 448 1366 361 1263 597 1421 462 1419 380 1184 515 1316 492 1164 705 1091 591 1274 547 1562 346 1550 316 1290 486 1250 558 1265 453 874 740 1091 803 1246 629 1443 399 1329 400 1379 355 1168 677 1402 370 1208 509 1019 574 877 833 1271 451 1157 573 1449 356 1468 315 1186 557 1414 462 1361 424 1205 589 1484 358 1206 548 1461 353 1412 346 1212 662 1258 415 1141 545 1157 723 1126 708 1397 459 1452 377 1363 498 1149 556 1452 367 1150 487 1570 293 1237 598 1378 463 1417 426 1070 665 1531 288 1250 544 1378 339 1173 561 1129 644 1550 278 1024 718 1495 364 1305 465 1066 795 1384 420 1463 380 1497 301 1033 752 1428 475 1359 501 1451 420 1416 348 1375 501 977 648 1135 632 1114 656 1476 329 968 685 1488 338 980 679 1417 378 1035 800 1377 541 1440 329 1195 590 1497 309 1141 803 1202 556 930 731 1399 437 1119 624 1321 643 1343 444 1251 489 1122 617 1258 442 1254 663 1191 594 1032 818 1550 326 1096 806 1094 624 1090 644 1055 597 1457 333 1178 657 1250 497 1403 445 1411 482 1405 399 1101 690 1467 344 1097 596 874 781 1111 687 1410 261 1287 530 1161 642 1014 625 1004 759 918 832 1533 331 1271 549 1570 316 1245 552 1451 424 1407 500 1513 274 1277 532 1460 324 1159 743 1283 498 1224 483 1056 640 1064 742 1336 454 1464 381 1033 722 1189 522 1157 529 1096 624 1343 500 1489 323 1350 457 1305 499 1093 683 1496 353 1101 860 1286 556 979 731 1329 492 1210 495 1191 686 1495 306 1024 817 1448 339 1052 596 1274 441 958 819 1408 384 1116 763 1147 587 1360 366 1451 346 1439 377 1180 646 1124 680 1300 476 1274 444 1211 483 1065 640 1284 467 1276 385 1253 496 1476 329 1328 392 1486 357 1093 754 1401 415 1204 506 999 646 1239 530 1095 725 1227 692 1114 673 1091 623 1187 523 1063 719 1214 524 1123 596 1284 563 1219 588 1432 412 1277 421 1456 291 1501 303 1518 331 1238 429 1211 447 1351 424 1264 496 1099 657 1472 385 907 742 1436 410 1166 534 1020 683 1285 457 1187 710 1257 614 1409 524 1327 434 1309 496 1498 334 1087 734 1307 511 1186 720 1466 313 1274 452 1293 503 1484 269 1119 588 1271 618 1301 441 1034 677 1150 514 1062 704 1205 504 1232 492 1476 382 1480 412 1169 733 995 670 1290 586 1456 344 1387 478 1424 362 897 726 1219 692 1344 408 1165 542 1476 297 1235 524 1213 693 1181 514 1145 725 1286 579 1079 493 1165 671 1253 546 1236 536 1196 721 1253 454 1012 783 1515 346 1215 646 1143 603 1497 377 990 699 1050 841 1546 319 1205 497 1245 539 1123 738 1066 676 1240 687 928 746 1135 549 1438 369 1414 367 1008 657 1189 483 1388 345 1195 587 1269 471 1263 590 1378 417 1085 833 1349 414 1300 435 958 777 1137 639 823 853 1046 710 1455 289 968 653 1412 337 1155 751 1366 410 1034 649 935 740 1044 641 1313 472 1203 669 1098 516 1222 544 1343 333 1102 618 1328 490 1261 689 1121 531 1444 450 1172 593 1293 549 938 724 1306 463 1080 749 1120 770 1538 353 1481 407 1454 328 1159 653 1317 409 1063 723 1333 412 1099 632 1153 517 1419 365 1553 328 1452 406 1489 353 822 734 1241 498 1009 885 1510 333 1058 694 1326 575 1367 436 985 701 1535 315 1454 335 1095 702 1315 481 997 699 1253 600 1228 485 1391 441 1135 716 1339 419 1489 298 1484 300 1134 509 1209 499 1306 597 1172 574 892 814 1270 546 1429 473 1437 345 967 718 1197 642 1079 798 1025 642 1463 326 1045 771 1123 699 1303 460 1302 553 1075 759 1380 325 911 694 1426 377 1223 652 1178 640 921 840 985 742 1096 564 1288 420 1422 479 1146 723 1062 757 1252 596 1247 643 855 763 1044 774 1367 413 1417 387 1341 538 1114 723 1182 653 1092 665 1054 670 1536 338 1209 670 1144 569 1018 657 1454 322 1375 387 1067 647 1407 409 1274 444 1248 507 1416 499 1585 298 1335 462 1194 545 818 816 1276 582 1295 531 975 702 1495 335 1292 550 1257 558 1033 663 1092 653 1359 433 1117 538 1221 500 1142 516 1141 559 946 649 1308 631 1116 545 1197 649 1449 352 1327 402 1359 443 1151 562 1255 586 1390 370 1213 565 1453 367 1281 460 1044 923 1263 519 1387 306 1356 534 1276 574 1458 312 1153 525 1073 669 1396 352 1462 356 1115 689 1179 692 1322 400 1265 579 1397 423 1325 527 1522 283 1445 506 1121 583 1305 420 1492 370 1141 545 1359 514 1492 329 1223 498 1285 590 1041 721 1142 642 1282 601 1231 608 1527 368 1011 653 1435 375 1294 602 1436 404 1353 429 1463 375 1394 457 1449 338 1325 569 891 827 1547 291 1254 470 1198 758 1535 287 1196 510 1157 598 1333 526 1106 771 1352 566 1455 326 1295 526 1062 774 1162 558 1115 776 899 707 983 753 1156 575 1256 536 998 737 1371 461 1419 342 1219 603 923 668 1280 452 1095 686 1249 526 1168 466 1164 731 1246 513 1327 361 1407 334 1169 606 939 756 1425 385 1173 539 1047 663 1058 551 1339 536 1184 548 1316 455 1443 325 1148 714 1243 602 1278 421 1286 435 1223 553 1247 454 1493 379 1094 785 1484 379 1513 331 1420 394 1259 531 1079 584 1276 559 980 674 1141 536 1477 276 1489 352 1067 846 1261 486 1120 561 1222 500 1208 646 1135 588 1017 824 873 863 1233 640 1062 656 919 941 1511 322 1477 388 1438 336 1205 570 1112 511 1260 438 1071 589 1198 561 1025 691 1079 550 1389 343 1218 554 1148 653 1117 627 1228 427 1121 689 1241 618 1106 647 1439 343 1320 488 1351 563 1047 734 975 779 1139 534 906 774 1523 290 1322 490 1411 401 1430 412 1582 289 1294 522 1422 334 1095 542 1100 594 1376 497 1154 612 1093 697 1148 755 1419 332 1085 722 1029 697 1344 438 1115 670 1078 660 1385 504 1278 512 1356 286 1007 594 1264 407 1144 576 1512 350 1162 643 997 823 1141 846 883 886 1040 605 1513 406 1242 444 1017 820 929 660 1103 713 1119 572 1196 525 1523 291 1174 652 948 768 1088 690 1152 716 1272 479 826 874 1265 447 1437 359 1163 719 1487 386 1175 651 1434 315 1162 505 1153 555 1205 600 1052 654 1533 305 1348 526 1362 461 1078 649 1307 408 1174 537 1193 601 1296 653 1530 320 1378 406 1520 289 1088 712 1135 632 1557 305 1362 382 1222 660 1070 685 1231 520 1297 410 921 682 1256 521 1195 638 944 741 1565 275 1152 632 1071 600 1412 416 1141 767 1213 704 1379 412 1425 475 1487 412 1469 350 1432 507 1014 610 1289 470 1017 872 1244 462 1330 483 1456 350 1507 378 948 705 1195 474 1437 410 1422 358 1232 542 1108 700 1374 422 1235 499 1102 668 1218 520 1135 677 1101 524 842 833 1023 712 1099 617 1170 606 1360 402 1312 464 1391 335 1098 671 977 696 1349 548 1168 566 1386 423 1335 432 1341 371 1044 589 1418 346 1262 552 1185 698 1030 692 1297 450 1442 322 1035 680 848 719 896 752 1143 641 983 765 1358 432 1381 378 1394 377 1302 485 1011 838 1490 408 1065 677 1164 498 1351 344 1120 514 1106 677 1135 710 1138 612 847 715 1494 355 1375 351 1162 531 858 748 1151 710 1523 291 954 779 1050 596 1093 688 1507 358 1342 529 976 753 1029 795 1341 452 1192 641 1566 305 1096 628 1467 355 1466 350 915 741 1498 354 1477 319 1468 446 1065 639 1229 635 1185 617 1147 697 1461 445 1275 537 1132 701 1276 571 1323 525 1154 726 1072 577 1372 494 1339 407 1327 502 1030 680 1251 485 1289 723 1115 727 1349 441 1494 427 1202 537 1317 465 1127 600 1297 451 1544 333 1341 383 1135 592 1208 456 1352 435 1425 457 1018 807 1500 302 1266 526 990 597 1185 609 1003 775 1148 665 1147 629 1444 374 1376 510 1182 584 1431 545 950 748 1215 613 1481 342 1407 391 1368 463 1097 771 1246 466 1182 677 903 747 1404 392 1058 707 1038 714 1178 488 1437 341 1479 400 1313 459 1246 587 1424 365 1095 618 1511 272 1349 511 950 884 984 613 1366 400 1249 533 1056 723 1193 633 1165 497 973 734 1040 783 1138 562 849 780 1190 653 1416 407 1101 724 1117 747 1369 403 1264 458 1502 382 1289 554 1157 620 1525 324 1133 732 1012 680 1124 649 1127 529 1047 697 1470 359 1289 519 1091 832 1060 645 1118 684 1292 484 1236 591 1133 670 1414 450 1223 515 889 830 1256 493 1190 753 1166 514 1096 781 1461 338 1212 647 1314 449 1219 546 990 724 1419 370 1018 792 1213 552 1531 324 1024 627 1541 279 1278 507 1454 380 887 782 1278 589 1338 416 1082 660 1369 334 1548 304 1482 325 1261 444 1286 470 1470 297 1323 517 1261 609 1087 638 1385 386 1260 589 962 628 1101 638 938 674 1384 351 1147 720 1470 380 1274 438 1448 402 1339 412 1389 541 1113 628 1499 352 1404 413 1471 449 1298 481 1066 630 1083 595 1114 649 1032 780 1142 561 1348 491 1134 491 1039 829 1081 615 1544 290 1209 588 1363 385 1279 398 890 826 1470 305 909 715 1086 811 1360 427 1205 554 1417 386 1405 402 1504 430 1052 586 1128 789 1211 592 1248 456 1039 687 1482 306 1058 723 1540 307 1497 314 1219 450 1378 387 1534 327 1249 581 1255 438 1231 612 1374 397 1290 517 1091 673 1067 796 1372 373 822 890 1015 773 901 787 1352 396 1201 553 1371 563 1035 722 967 822 1479 328 861 748 1153 692 1167 723 1000 699 1179 544 1401 366 1429 381 1122 723 1251 545 1502 303 1254 646 1183 591 1125 747 1294 479 1432 334 1069 528 1278 519 1088 588 1146 765 1132 677 1217 608 1281 516 1383 382 1208 533 1308 624 1437 329 1313 543 972 708 1106 768 1432 417 1028 812 1501 295 1215 752 1161 493 1438 359 1143 546 1430 378 1145 565 1175 674 1292 488 1246 430 1115 679 1176 638 1161 604 1093 758 1119 779 1503 380 1389 466 1381 397 1047 739 1247 604 1180 698 1180 582 1375 547 1563 305 1429 354 1117 711 1150 656 1249 610 1048 754 1354 602 1244 574 1386 517 1251 540 1179 753 1476 336 1232 566 1504 327 1430 428 986 608 1283 481 1310 611 1163 575 1271 443 1423 421 1300 480 1325 487 916 663 1402 470 1019 686 1146 622 1363 483 1208 604 1184 725 1248 625 1176 558 1061 598 1440 333 1472 297 1309 411 1050 672 1523 288 1075 624 1184 560 1143 779 1468 336 1098 547 1237 466 1556 288 933 779 1200 584 1140 727 1230 499 1312 368 1070 731 1491 315 1324 631 1213 597 1242 501 1122 645 1521 325 1326 351 1448 375 1111 644 1497 381 901 764 1356 433 1134 688 1576 308 1434 329 1169 697 1528 345 1457 333 1039 743 884 828 1268 464 1276 469 1356 452 1198 633 1219 604 1338 437 1402 356 1079 767 1197 478 1167 814 1095 826 1337 470 1107 503 1153 598 835 701 1120 723 1371 529 1508 386 1179 566 980 685 1193 621 1392 504 1130 670 1314 363 1093 615 1342 487 1376 423 1171 589 1370 436 947 742 1148 639 1010 871 1138 597 1476 340 1234 622 855 796 1207 667 1339 425 1093 593 1216 492 1502 301 1126 706 1382 361 1442 421 1413 365 1125 605 1239 483 1416 310 1317 569 1297 402 1194 524 1297 589 1494 405 1494 294 967 722 1137 606 1245 626 1066 738 1048 658 1435 448 1121 728 1230 608 1466 356 1050 805 1325 571 1142 714 1027 708 1256 494 1325 397 976 712 1143 544 1311 364 1457 330 1078 715 1123 587 959 757 1113 552 1158 554 1194 587 1199 574 1155 585 1406 491 1220 602 1411 339 1133 722 1121 824 1246 553 1171 533 1175 615 1100 790 1201 540 1443 504 1391 385 948 720 1073 649 1231 578 1318 499 1061 800 1232 496 1267 547 1121 588 1419 382 1188 635 982 787 1267 521 1481 333 1192 641 1051 700 1393 429 1272 527 1422 359 1408 422 1057 682 1253 415 843 860 1253 446 1302 478 1420 343 1411 339 1329 679 1120 632 1093 658 1104 618 1004 691 1432 359 1116 648 1167 767 1446 353 1304 477 1197 484 1398 493 1281 467 970 661 1110 629 1378 315 1109 741 970 702 1214 575 879 744 1245 486 1037 613 1342 359 1241 450 1245 445 1005 656 1052 633 1137 578 1229 522 1458 339 1300 531 1424 365 1495 337 1338 398 1252 449 1438 377 1160 559 1109 584 1137 733 1458 327 1521 327 1460 330 1268 500 987 762 1355 368 1396 357 1422 417 1375 559 1127 513 1214 507 1423 391 995 614 986 677 1144 677 1209 457 946 710 1352 463 1387 474 1225 459 946 862 1389 377 1182 605 1479 348 1121 693 1107 646 1199 848 1333 470 1287 407 1351 413 1038 596 1279 527 1308 419 1362 417 1469 315 1473 441 1158 787 1361 414 1018 650 1024 756 1311 474 1506 334 1342 558 1020 782 1141 537 1428 481 1366 398 1180 406 1361 435 1252 656 1049 781 1124 623 1446 409 1532 312 1341 420 849 763 934 779 1494 324 1095 801 1413 432 1155 587 1232 529 1489 352 1170 683 1468 357 1448 443 1472 342 1113 809 1397 440 1059 659 1428 319 1473 429 1262 493 1031 705 1272 561 1232 452 1232 502 1066 563 1353 390 1200 578 1425 346 1041 754 1095 680 1334 400 1128 552 1118 578 957 828 1048 585 1097 761 1553 296 1207 550 1456 449 1090 587 1116 625 1387 475 1485 394 1101 704 1045 715 1305 466 1121 746 978 824 1008 669 1399 435 1507 315 1306 561 1447 429 1043 804 1012 798 1546 287 1034 718 1365 457 1522 318 1511 305 1514 378 1322 456 1352 390 1086 664 958 778 1248 471 982 639 1224 536 1038 714 1102 697 1349 406 899 679 1146 797 1100 646 1449 339 1318 453 1376 513 847 797 1081 632 1369 396 1147 601 1334 418 1116 655 1142 671 1346 410 1107 763 1133 598 1299 516 1196 526 1484 428 1357 566 1449 405 1422 310 1281 522 848 709 1339 491 1022 793 1119 638 1397 502 1335 442 1279 491 1475 340 1411 402 1152 532 1303 596 1323 372 1135 588 1032 664 970 786 1493 352 1198 639 1533 279 1121 630 1445 299 1520 330 1157 576 1469 317 1572 249 1421 350 1340 459 1501 374 1538 305 1081 617 1379 386 1312 420 1395 524 1342 520 1125 627 963 743 1306 472 1293 568 1033 662 1352 467 1262 596 1488 309 856 808 1371 331 1119 566 1059 631 1115 578 1408 461 1383 473 886 843 1123 563 961 724 1126 628 1416 341 814 776 1276 493 1150 704 930 712 1505 322 1180 593 1277 548 1503 371 1095 701 1392 410 1280 569 1248 550 1060 631 1245 549 1376 403 1457 365 1223 543 1509 350 1461 279 1405 429 1248 482 1386 346 1275 558 1409 366 1341 516 1255 579 1084 610 1334 538 1200 691 1469 360 1358 416 1251 434 1135 535 1094 700 1383 471 987 840 1506 305 972 786 1350 457 1458 421 988 720 1152 710 1087 707 1206 567 1072 749 1198 572 1297 529 1442 384 1287 512 1294 452 1314 516 1132 608 1123 777 1142 663 1194 736 1349 432 1086 747 1217 624 1264 418 1347 379 1193 515 1106 614 1329 460 1448 453 1098 805 904 786 1049 661 1263 517 1305 506 1200 582 1270 500 1283 487 1301 490 1277 470 1316 472 1045 727 1361 379 976 677 1062 608 1454 423 1115 551 1368 389 1064 647 1161 523 1392 410 1120 520 1193 475 1313 426 1151 733 1429 321 1085 663 1018 865 1037 697 1483 358 1321 449 1010 643 1260 526 1224 567 1331 418 1367 406 1143 619 1206 595 1205 614 1150 611 1003 676 1114 606 1132 664 1063 676 1104 560 954 631 1003 651 1102 646 1180 513 1097 780 1422 413 965 794 1385 372 1021 605 1197 525 1455 316 1204 548 1055 696 1456 312 1541 300 1456 418 1365 518 1271 549 1408 353 1152 639 1199 698 1277 433 1360 388 1096 789 861 878 1021 847 1347 379 1167 632 1030 584 975 866 847 773 1282 437 1358 364 1147 556 1398 471 1151 579 1242 493 1256 687 1228 464 1344 452 1389 405 832 791 1096 868 1414 454 1204 624 1594 283 1265 545 1221 465 1171 511 1390 367 977 704 1306 452 1514 431 1227 523 1561 326 952 850 1368 377 1321 591 1019 592 1473 322 1180 504 1385 440 1269 657 1182 716 1394 388 1480 416 1237 449 1125 646 1038 770 1149 653 1060 617 1150 631 1447 285 1163 599 952 823 1224 608 1353 502 1371 374 1363 620 1301 458 1518 343 1042 777 1184 688 1420 455 1209 581 1306 466 1336 475 1256 474 928 694 1376 462 1501 312 1346 437 1093 654 1408 345 1222 601 1311 411 1112 524 1342 530 1326 536 1225 523 1118 654 1099 607 1170 790 1278 498 1285 426 1401 442 1136 623 1106 669 1171 696 1245 504 1446 407 1497 376 1409 364 1440 356 1183 640 1057 618 1349 435 1411 441 1081 697 1236 504 1202 641 1183 625 1233 694 1217 551 1280 598 1096 637 1329 491 1073 618 1007 603 1169 524 1332 496 1209 486 1120 615 1137 810 1290 531 1014 811 1438 311 1271 558 1131 685 992 693 1322 408 980 763 1392 391 1421 263 1196 591 1424 470 1137 581 1122 538 1382 405 1000 786 1246 608 1480 306 1528 323 1500 334 1173 671 1433 406 1389 485 1377 377 1421 359 1425 419 1172 648 1416 435 1369 400 1181 582 1364 376 1338 499 1464 323 1103 611 1330 415 1157 572 1394 426 835 840 1194 568 1442 384 1190 633 1446 403 1098 865 1222 437 1112 610 1401 515 1490 313 1387 457 1211 667 1266 537 1326 451 1060 629 1239 486 1348 463 1182 482 1459 363 1467 391 1147 647 1363 411 1171 523 1069 623 1499 428 1034 589 1093 525 1392 415 1153 615 1030 613 1267 468 1332 420 1467 343 1118 692 1443 337 1329 368 1196 619 1245 560 1318 393 1351 394 1204 504 1312 365 968 626 1393 418 1094 687 1195 579 1295 643 1357 444 1206 626 1158 691 1500 388 1433 351 1512 318 1169 713 1255 554 1291 431 1171 618 1425 511 1387 345 1496 328 1020 780 1113 674 1363 394 1454 348 988 659 1324 403 1457 280 1310 531 1344 525 1072 550 1394 397 1097 557 972 722 1275 425 1195 662 1093 586 1095 600 1504 337 1170 577 1097 645 953 902 1186 704 1143 558 1186 487 1131 632 1499 335 859 847 951 749 1276 522 1189 561 1516 364 1485 295 1312 433 1392 508 1368 531 1383 499 1304 508 1254 504 1334 544 1281 499 983 667 1411 448 1515 314 1485 416 1431 374 1044 793 1217 550 993 741 1164 614 1059 814 1193 561 1044 700 1214 622 1264 563 1199 719 1250 419 1446 416 1513 324 1179 645 1237 578 1228 462 1136 725 883 769 1082 741 867 763 1154 603 1483 321 1297 404 1440 375 1022 666 1531 340 1148 511 1039 653 1081 758 1111 711 999 643 1238 524 876 820 813 757 1533 366 1344 483 1055 690 1110 607 1132 667 1147 632 1239 494 1282 570 1124 639 1322 470 1153 504 832 834 1449 381 1084 671 1409 369 1095 703 1388 492 1221 649 1474 413 1434 330 1224 525 1262 450 1226 540 1202 570 1505 387 1445 284 1348 432 1328 507 1155 568 1368 400 1045 772 1182 713 1223 535 1089 722 1040 654 1163 473 1318 479 1095 541 1223 400 1176 655 960 760 1084 559 953 740 1365 467 847 819 1109 762 1151 628 1043 852 1494 306 1026 627 1006 818 1121 620 1510 400 1303 537 1451 444 1073 698 1283 506 1470 304 1466 403 1347 480 1368 485 868 783 1126 574 1151 689 1468 357 1499 307 1297 511 1451 414 1382 397 1333 461 1082 738 1425 383 974 777 1218 651 1157 583 1101 725 1392 391 1521 331 1446 330 1435 304 958 803 1475 470 1334 437 1015 679 1336 386 1249 447 1546 313 1399 363 1130 688 1264 615 1302 474 1232 694 1296 594 1152 631 1071 697 1380 453 1472 410 1113 718 1133 785 1337 634 1290 581 1306 411 1508 271 1406 425 1449 333 1150 681 1306 587 1118 816 1559 299 1147 581 1416 383 1010 741 1133 505 1076 643 1072 690 1049 709 1499 371 1244 468 1468 351 1236 594 1429 441 1213 568 1357 407 1064 651 1439 378 1412 448 1128 733 1055 657 1004 656 814 798 1397 394 1071 648 1117 574 1271 665 1473 383 1191 503 1500 323 1034 599 1278 569 1032 688 1165 566 1305 563 1494 427 1189 590 1293 630 1048 728 1113 742 1203 669 1466 454 1008 679 1231 507 1183 626 1328 519 1183 480 1191 466 1397 508 1397 412 1468 344 1465 354 1176 640 1295 606 1242 558 1142 668 1152 540 1219 617 1419 474 1278 580 1259 603 988 772 967 714 1164 703 946 883 1393 362 1241 575 1509 314 1336 408 1416 412 1013 687 1351 498 836 769 978 678 1195 536 1160 469 914 736 1401 406 965 814 1126 634 1040 664 1087 795 1201 520 1168 693 1185 452 1104 573 1008 805 1333 499 1437 485 1386 341 1445 348 1415 511 1170 744 1078 593 1116 498 1252 481 1201 526 1202 679 1205 718 1282 472 1109 570 1026 743 1432 316 1440 455 1119 551 1462 347 1388 374 1094 548 1442 451 880 726 1411 463 1516 311 1445 380 992 685 1230 587 1054 634 1169 620 1463 329 1426 430 1404 372 1229 510 1428 346 1329 413 1480 372 1009 709 1285 405 1116 618 1104 777 968 802 1099 711 1159 560 1212 500 1343 436 1093 608 1099 582 1143 627 1177 538 832 774 1526 272 835 929 1519 401 1476 359 1132 796 1096 665 1174 659 1351 454 1281 491 1391 383 1420 359 1170 612 1078 666 874 798 1007 631 933 793 1461 376 1529 385 1531 279 1462 312 1204 678 1179 582 1281 575 1298 461 1227 618 1138 511 1304 498 1086 557 1236 513 1096 779 1399 344 1361 407 1467 363 1382 417 1043 759 1348 393 1394 397 1203 606 1006 637 1216 525 1175 525 1516 361 1132 648 1238 530 1028 596 1405 356 1442 276 921 758 904 681 1498 332 1343 311 1192 652 1192 562 1502 330 1183 517 1498 364 1029 639 1269 500 1375 434 1477 366 1525 311 1024 808 1337 562 1435 351 1387 387 1189 504 1154 795 1341 553 919 672 1282 442 1217 508 1224 566 1174 614 1210 615 998 827 1440 439 1120 666 1207 583 904 666 1099 555 1545 292 1504 287 1466 424 1388 383 1402 389 1102 576 1140 731 941 741 1075 651 1403 431 868 770 1329 441 1131 642 1239 611 1491 377 1180 662 1350 440 1132 756 1246 629 1106 748 1037 713 825 822 1111 643 1288 486 1141 579 1457 379 1111 586 1255 601 1346 365 1401 474 1059 556 1093 607 1007 661 1510 321 1455 343 1153 578 1507 312 1231 625 1540 327 1410 397 1101 817 1356 465 1043 738 1271 563 1125 619 1025 611 1461 317 943 800 1407 404 1276 409 1127 637 1104 588 1473 470 1065 608 860 762 1170 752 1170 713 1445 441 1344 478 1224 454 1245 658 1244 502 815 881 1042 732 1289 496 1396 356 1126 551 1205 646 1245 457 1512 284 846 721 1540 311 1432 504 910 702 1366 363 1154 578 1140 651 1511 310 1395 376 1238 544 1191 664 1278 498 1229 691 1374 411 1171 665 1232 629 1522 327 1401 424 1165 631 1286 473 1236 686 1000 675 1104 599 1440 370 1402 407 1006 717 1138 569 1222 584 1106 769 1321 439 1228 594 1303 470 1328 519 1099 702 1091 714 847 774 979 826 1367 385 1338 406 1019 604 1388 457 1137 554 1405 453 1418 363 1079 640 1194 475 1218 482 1450 308 1137 600 1492 361 1149 652 1298 538 1355 433 1568 308 1489 250 1515 299 1412 347 874 702 999 715 1145 669 1127 524 1122 568 1243 612 1385 439 1272 550 1490 382 1251 523 1392 406 1152 683 1362 362 1320 538 1171 749 1156 549 1028 701 1049 626 1484 280 978 795 1205 580 1468 312 1048 699 1392 396 1145 657 1467 436 1251 522 1353 502 1146 578 1426 456 1401 507 989 700 1193 649 1230 432 907 834 1554 320 1373 520 1346 527 1315 485 1371 344 1362 531 1396 333 1410 418 1050 783 1019 856 1443 346 1129 696 1297 471 1319 468 1390 395 1216 516 1392 328 1094 693 1221 517 1473 374 1095 724 1220 582 1388 414 1261 527 1069 600 1313 412 1357 438 1205 490 1386 417 1446 351 1251 515 1104 569 1307 483 1202 665 1208 676 1404 556 1270 441 1142 523 883 817 1508 311 1219 401 1325 530 1197 559 1452 335 1332 506 994 888 1378 331 1124 656 1112 758 1486 306 1195 541 1316 467 1304 392 1490 382 1376 546 1055 701 1324 407 1297 561 1089 555 1013 740 1036 571 1190 487 1059 642 1253 441 1158 633 1018 627 1127 663 1247 553 1475 386 1101 581 1305 447 1179 566 1461 375 1430 346 1018 689 1419 353 1392 428 1323 520 1390 401 1097 769 1384 417 1208 615 1355 415 1244 648 1050 618 1028 726 1138 631 1037 680 1492 368 1281 548 1033 733 955 686 1468 375 1027 795 1177 672 1142 720 1279 620 1098 700 1027 716 1478 380 1420 410 1141 646 997 694 1102 686 1210 536 1416 330 1349 469 983 705 1101 604 859 703 1438 396 959 666 1084 582 1191 695 1418 375 1176 694 1249 606 1280 470 1203 619 991 740 1230 498 1132 595 1152 557 1517 320 1278 462 1371 449 1286 495 1050 689 884 719 1276 438 1054 775 1197 701 1142 691 1533 275 1243 433 1161 681 1067 739 1512 310 953 736 1357 428 1349 447 1202 525 1214 620 1180 687 893 700 1433 365 1417 368 1359 532 1006 770 1482 382 855 870 1497 329 1014 585 1204 471 1422 325 1159 828 1014 632 1007 671 820 839 1192 594 1509 367 1304 414 1521 367 994 748 1017 619 1220 464 1115 512 910 714 1282 478 1179 591 1022 756 1300 539 1395 404 1413 473 1036 717 1012 714 1092 635 1162 687 1142 590 1421 258 1297 507 1435 363 1070 610 1236 597 1168 613 1024 738 1040 711 1148 774 1087 594 1100 713 1326 433 916 833 1133 678 1415 364 1280 478 1423 403 1121 688 1051 607 966 872 1311 582 1311 467 1217 574 1417 497 1052 674 1483 400 1232 484 1166 575 1328 410 1260 483 1239 458 1096 567 1376 451 1117 507 1058 768 1143 567 1217 608 991 841 1327 395 1361 282 964 836 1286 462 1319 451 1142 644 1153 777 1487 354 1460 364 1321 402 1358 421 1194 697 1181 502 1359 547 1524 352 1107 677 1471 361 1347 460 1415 405 1443 391 1243 498 1118 806 1431 368 875 752 1164 630 1225 629 1266 647 937 711 1100 647 1237 676 1166 488 1072 771 1107 511 1505 266 1415 352 864 836 1072 701 1202 685 1361 433 1212 589 1124 684 1419 391 1461 299 1485 289 942 750 1482 341 1191 580 1092 695 1407 493 1563 284 1219 535 1403 367 1305 374 1402 376 1520 320 1365 466 1195 553 1215 748 1142 564 944 676 1196 622 1237 683 1163 590 1478 322 990 745 977 818 891 703 1087 803 1431 365 1354 391 1416 433 1317 522 1483 420 1514 301 1247 508 1231 427 1438 346 952 786 1410 315 1247 524 1489 322 1119 645 1200 468 1299 454 1136 589 1072 559 1434 349 1347 474 1233 573 1451 413 1100 588 1027 757 1227 653 1084 684 1361 452 1414 521 1058 610 1104 664 1464 378 1481 415 1213 484 1150 773 1113 671 1307 452 1478 466 1431 407 968 728 1306 479 1150 660 1498 364 1339 374 1067 655 1368 427 1170 571 1101 711 1332 362 1053 664 1271 516 1320 427 989 689 1220 683 1259 573 1070 658 1118 666 1404 406 1471 323 1190 629 1380 326 1118 729 1103 765 1351 498 1288 471 1119 577 1140 664 1016 682 1242 572 1415 453 1280 422 1359 539 1126 682 1314 407 1432 333 1496 316 1381 404 1245 543 1146 601 1477 327 1110 619 1333 421 1063 646 1447 381 975 656 1215 502 1225 650 1064 509 1344 515 1012 680 1275 593 1329 595 1414 306 1075 642 1168 591 1028 664 1183 645 1102 546 1383 325 944 727 1378 486 1114 579 1368 406 1237 524 1530 303 1401 361 1352 409 1248 434 1209 545 1261 640 1501 420 1067 687 1502 313 1255 658 1075 645 1248 477 1327 440 1535 266 1190 579 1405 295 1071 734 1265 566 1292 448 1141 615 1118 565 1094 745 1437 431 1303 397 1186 507 993 605 1200 672 1255 485 1397 527 1515 302 1152 604 1313 456 1365 541 1277 523 1397 355 1250 551 1274 542 1266 532 1571 300 1319 460 1472 382 1154 521 1066 669 1534 308 1131 500 978 590 1238 622 1445 316 1147 567 1175 589 867 751 1459 333 1392 386 1434 354 1064 804 1261 471 1451 456 1174 544 1246 510 1158 653 1090 663 1124 681 1021 842 1294 426 1527 283 989 720 1168 554 1102 637 1426 395 1292 461 1042 760 1092 683 1281 426 878 799 1194 509 1294 579 1224 655 1146 699 1513 320 1143 711 1332 450 1375 437 1131 716 1379 420 1141 566 1304 479 1277 481 993 705 1159 475 1368 460 1186 609 1404 392 915 676 1406 419 1469 333 1071 785 1217 549 981 719 1162 651 1200 445 1097 681 1290 487 1119 630 1474 374 1163 738 1316 546 1431 387 1158 659 1155 538 1495 363 1503 344 1543 359 1243 452 1131 746 1155 551 1497 309 1140 650 1246 552 1278 459 1314 417 1395 505 1490 339 1260 545 1514 374 1477 332 1177 595 1386 460 1456 297 1185 645 1189 579 1515 298 1056 735 1036 619 1268 492 1214 584 1259 682 1332 539 1470 435 1450 395 1084 578 1020 811 1229 547 1450 334 1186 501 1300 544 1405 308 1352 420 1031 708 1293 529 1493 426 1531 364 1264 662 1105 702 1085 628 1148 657 994 628 1398 449 1377 352 990 719 1292 558 1101 769 1161 589 1028 735 1438 477 1117 635 903 834 1406 318 1328 479 991 775 1002 674 1267 441 1187 625 1370 376 1076 667 1270 461 1135 541 1208 540 1360 370 1426 394 1121 668 873 816 981 757 1184 540 1187 657 1168 680 1532 301 1126 747 914 780 1136 642 1319 507 814 811 1160 665 1126 715 899 760 1030 640 986 817 1434 305 1182 655 1069 624 1288 448 1078 773 1016 625 1497 352 1556 300 1230 401 1209 476 1230 560 1110 623 1042 655 1110 540 1397 521 1384 415 1405 395 1136 549 920 694 995 752 1365 496 1086 744 1426 426 1262 476 1039 611 1094 635 1155 699 1437 375 1457 355 1042 764 1116 620 1382 432 1353 493 1489 378 1132 638 1270 620 1236 609 1218 449 859 865 1399 466 1449 352 1362 481 1242 650 1432 356 1129 708 1238 493 1292 420 1191 542 1108 606 1267 468 999 718 1312 463 1492 313 1323 508 1158 580 1282 601 1363 434 961 665 1008 715 985 721 1259 503 1203 689 1210 465 933 747 1235 535 1146 591 1155 676 1212 563 1469 352 1217 702 1093 750 1230 525 1290 608 1054 615 1363 556 1311 433 1417 381 1511 284 1340 554 936 729 1196 457 1215 457 1098 575 1046 658 1475 346 1134 592 1052 691 1302 597 994 729 1289 499 1107 723 1405 483 961 792 1324 545 940 760 1251 610 1093 769 1444 454 871 823 876 768 1424 438 965 713 1565 327 1163 540 1110 541 1045 560 1309 462 1305 400 935 830 1407 371 1082 827 1450 307 1214 533 1407 497 1431 402 1456 286 1188 478 1226 559 1488 381 1042 614 1039 788 1093 599 1187 481 1311 541 893 835 1141 637 1372 363 1462 307 1123 642 1352 493 1466 333 1182 580 1435 369 1286 484 1360 581 1213 564 1356 360 1365 460 1077 690 1283 622 1384 357 924 709 1078 759 1132 560 1471 317 1130 582 869 805 1502 305 885 729 1185 558 1158 493 1112 636 1378 382 1076 704 1225 544 1502 337 1320 588 1306 501 1224 635 1531 326 1068 653 1140 691 1443 362 1537 346 1265 497 1152 562 1054 772 1390 349 1111 751 1281 494 1455 300 1048 805 1446 432 1511 359 1525 309 1375 390 1100 595 1287 424 1549 337 1320 471 1096 730 1001 781 1082 715 1244 556 1008 648 1241 514 1279 576 1116 621 1106 556 1124 611 1132 647 981 640 1201 600 1433 411 1280 432 1325 554 1146 553 1008 714 1177 591 979 730 1160 692 1310 436 1529 357 1460 370 1217 581 1111 591 1326 466 977 678 1375 497 1179 558 1155 652 1319 563 1070 673 1182 687 1118 802 1458 358 948 851 1066 555 1290 459 1051 635 924 794 1499 271 939 809 1231 528 1495 419 1394 339 1052 759 1476 272 1380 346 1185 572 1257 553 1065 770 1210 626 1368 486 1487 340 1236 521 1344 646 1199 558 1130 580 1364 385 1032 743 1392 418 1024 717 875 760 1301 463 1371 453 1530 302 1016 822 1324 441 1368 377 1127 642 1047 666 1334 376 988 825 883 844 1117 636 1040 697 1298 480 1213 611 1356 457 1477 340 1448 301 1141 559 1213 424 994 687 1165 637 1095 737 1202 576 1204 445 1094 712 1106 761 857 841 841 799 1177 544 1516 303 1178 613 1384 371 1458 363 1467 358 1523 386 1336 487 998 760 1045 604 1124 695 917 670 1171 630 1512 327 1256 485 1417 390 1072 766 1155 615 1174 600 1216 540 1188 621 1178 471 1409 381 1124 627 1003 740 1252 517 1063 656 1183 534 1384 379 879 715 1163 576 1290 485 1484 294 1391 434 1224 498 993 648 1163 473 1270 540 1105 630 1091 654 994 687 1036 664 1345 440 1017 617 1136 517 1428 558 1479 333 1258 495 1168 554 1327 577 1183 636 1123 644 1084 718 1015 719 1543 278 931 743 1138 563 1020 683 1043 618 1418 414 1357 487 1036 613 1275 418 1127 726 1000 606 959 653 1537 291 1351 539 1445 375 1309 451 1377 333 1464 425 1431 403 1500 332 1511 312 1119 648 1282 443 1358 571 1090 695 1455 322 1463 327 1356 479 1272 498 1188 660 1404 303 1246 531 1018 732 1118 743 1234 618 814 749 1278 497 974 858 914 668 1226 582 1175 743 1418 396 1263 589 1215 490 1197 501 1160 611 1472 406 1054 755 1423 378 1316 588 1108 761 1427 365 1071 749 1139 666 1178 718 1344 478 1051 677 1382 388 1118 851 1503 357 1441 299 1431 385 1061 627 1008 685 1450 355 1268 504 1163 561 1503 304 1240 421 1333 515 1444 368 1222 429 1068 618 1342 411 1061 628 1323 426 1051 644 1125 626 1291 445 1078 693 1197 638 1412 369 1321 392 1134 642 1151 724 934 756 1142 578 1136 746 1222 542 1263 551 1034 639 826 807 1014 653 1139 814 1207 459 1082 900 993 671 1222 523 1052 644 1231 478 1414 359 1545 323 1215 571 1208 656 1176 526 1484 320 908 748 1302 552 869 798 1405 451 1065 729 1208 513 1225 622 1373 398 1247 597 979 799 1120 787 1071 826 1208 439 1244 545 1381 372 1215 483 1222 674 1317 515 1391 392 988 767 1142 529 1235 692 1441 361 993 789 968 673 1066 652 1203 640 1352 454 1240 622 1204 531 1078 796 1504 330 1129 560 1412 552 1423 375 1241 494 1230 663 1094 736 1373 387 1529 333 1303 489 1068 543 1217 592 1101 514 1300 487 939 732 1508 314 1039 609 1375 352 1316 381 1128 516 1227 433 1139 627 1090 746 1129 716 1185 528 1309 548 1328 406 980 804 1415 362 1134 577 1268 575 1391 455 1304 487 1138 723 1321 444 1138 506 1101 642 1444 264 1170 469 1553 280 1115 690 1217 506 1271 428 1451 421 838 762 1301 403 1268 477 951 672 998 728 1140 627 1334 420 1172 620 1111 781 1205 454 1140 562 1081 780 979 775 1400 386 1371 491 1466 378 1364 515 1053 700 1084 770 1013 788 1484 359 1220 491 1498 379 1408 415 1017 781 1505 349 1523 313 1519 389 1144 607 1248 527 1267 549 1289 433 1289 433 1468 358 1426 385 1199 496 1372 468 1126 748 1149 696 1449 321 1401 386 1161 708 1309 470 1249 494 887 682 1391 468 1481 334 1175 485 1551 290 1004 607 1139 587 1044 570 1149 644 1529 315 1222 464 1498 343 1387 412 1475 376 1145 641 996 604 1387 391 1041 734 1227 700 1257 508 956 687 1113 552 1093 594 1424 410 1198 539 981 789 1242 505 931 791 1253 535 1414 334 1277 531 989 762 1302 494 1507 308 1406 382 1012 819 1285 606 1379 581 1524 307 1536 337 1135 609 1088 605 1508 383 1126 546 1137 658 1182 699 1349 459 1314 533 1141 533 1462 364 1086 673 1196 557 1382 459 1189 465 1102 660 1129 507 1338 392 1467 361 814 883 1316 532 971 593 1354 394 1106 580 1151 643 969 704 1097 620 1154 586 1440 442 1530 291 1139 588 1101 597 978 671 1159 612 1178 544 1451 369 1516 325 1218 509 1085 654 1353 365 1275 454 1035 749 1453 370 1363 370 1220 520 1125 672 1240 487 1306 455 1132 539 1205 513 1224 600 1154 518 1393 387 1128 542 1309 608 935 673 1047 715 1291 459 1287 688 1106 656 1326 464 1515 336 1174 551 1150 654 1181 544 1393 411 1136 749 1271 629 1490 354 1077 841 1110 530 946 813 1380 493 1268 606 966 831 1177 677 1539 319 1199 587 1143 555 1012 605 1548 326 1018 779 1329 451 1055 621 1166 496 1028 678 1429 392 1562 334 1108 528 1309 509 1334 498 1107 735 1054 628 1230 552 1196 682 1504 346 1438 354 1445 357 1076 607 1408 364 1112 748 1377 390 1323 458 1421 323 1219 553 1232 594 1466 334 1105 715 1130 624 1019 705 1152 532 1150 523 1302 481 1038 645 1134 617 1232 441 1109 748 1348 355 835 859 996 717 1118 606 1243 519 970 875 1276 405 1184 665 1075 673 1144 566 1139 631 1120 748 1472 332 1324 557 1425 359 1414 405 1270 651 1330 403 1348 486 869 813 1249 549 1333 426 1361 461 1120 657 1517 330 1117 637 1303 421 1079 738 1503 362 1138 795 1127 694 1164 500 1262 463 1446 319 1514 303 1352 438 1281 472 1259 616 1224 464 1462 320 1046 696 1211 525 1496 362 1083 641 1444 314 1236 430 1249 474 1155 598 916 750 1034 671 1163 699 1043 575 1264 516 1520 376 1471 378 1211 567 1057 695 1223 638 1154 484 1273 417 1100 568 1354 489 1416 395 1372 343 1597 296 1539 316 1253 508 1315 504 1310 610 1026 727 1226 445 1248 538 1328 587 1412 443 1430 394 1017 703 866 783 1475 420 1461 369 1439 392 1280 553 1484 298 1193 510 1076 719 1184 494 1113 646 932 730 1229 507 1134 517 1003 778 1228 471 1337 403 1300 537 1037 744 1024 764 943 721 1115 774 1324 404 1063 632 1370 517 1272 451 846 880 1401 486 1038 764 1004 739 1116 744 1280 419 1312 427 1525 365 1177 653 1185 509 1213 475 1300 466 1302 395 1261 490 939 862 1340 428 1456 332 1216 678 1128 538 1096 652 1421 350 1355 549 1255 476 1085 830 1044 750 1125 622 1089 571 1308 465 1266 441 990 629 1251 455 1351 450 851 825 1413 382 952 760 1139 669 1071 672 1044 653 978 686 1355 440 1206 515 1223 550 1167 713 1385 374 1373 386 1067 840 1304 404 848 834 1170 346 1191 376 1512 211 1568 216 1414 260 1614 287 1394 646 1456 551" fill="none" stroke="none" marker-start="url(#b)" marker-mid="url(#b)" marker-end="url(#b)"/></g><path d="M133.0 651.0v-7.5M133.0 57.5v7.5M133.0 651.0h7.5M922.5 651.0h-7.5M276.5 651.0v-7.5M276.5 57.5v7.5M133.0 543.1h7.5M922.5 543.1h-7.5M420.1 651.0v-7.5M420.1 57.5v7.5M133.0 435.2h7.5M922.5 435.2h-7.5M563.6 651.0v-7.5M563.6 57.5v7.5M133.0 327.3h7.5M922.5 327.3h-7.5M707.2 651.0v-7.5M707.2 57.5v7.5M133.0 219.4h7.5M922.5 219.4h-7.5M850.7 651.0v-7.5M850.7 57.5v7.5M133.0 111.5h7.5M922.5 111.5h-7.5" stroke="#262626" stroke-width="1.1" fill="none"/><path d="M133.0 57.0V651.5M132.5 651.0H923.0V57.5H133.0" stroke="#262626" stroke-width="1.1" fill="none"/><g font-family="Liberation Serif, serif" font-size="36.5" fill="#262626"><text x="133.0" y="696.6" text-anchor="middle">0</text><text x="120.2" y="663.5" text-anchor="end">0</text><text x="276.5" y="696.6" text-anchor="middle">100</text><text x="120.2" y="555.6" text-anchor="end">100</text><text x="420.1" y="696.6" text-anchor="middle">200</text><text x="120.2" y="447.7" text-anchor="end">200</text><text x="563.6" y="696.6" text-anchor="middle">300</text><text x="120.2" y="339.8" text-anchor="end">300</text><text x="707.2" y="696.6" text-anchor="middle">400</text><text x="120.2" y="231.9" text-anchor="end">400</text><text x="850.7" y="696.6" text-anchor="middle">500</text><text x="120.2" y="124.0" text-anchor="end">500</text></g><g font-family="Liberation Serif, serif" font-size="40.7" fill="#262626"><text transform="translate(384.5,755.5) scale(0.95,1)" font-size="42.5">Observed (W/m<tspan dy="-20" font-size="33">2</tspan><tspan dy="20">)</tspan></text><text transform="translate(51,498.5) rotate(-90) scale(0.9766,1)">Estimated (W/m<tspan dy="-20" font-size="32">2</tspan><tspan dy="20">)</tspan></text></g><g transform="translate(161.5,162.6) scale(0.944,1)" font-family="Liberation Sans, sans-serif" font-size="36" fill="#0000ff"><text x="0" y="0.0">o Day-overpass</text><text x="0" y="46.6">Bias=11.4</text><text x="0" y="93.2">RMSE=30.8</text><text x="0" y="139.8">N=4381</text></g><g transform="translate(161.5,399.6) scale(0.944,1)" font-family="Liberation Sans, sans-serif" font-size="36" fill="#000"><text x="0" y="0.0">Day and Night</text><text x="0" y="46.6">Bias=5.42</text><text x="0" y="93.2">RMSE=30.3</text><text x="0" y="139.8">N=11972</text></g><g transform="translate(649.5,486.0) scale(0.944,1)" font-family="Liberation Sans, sans-serif" font-size="36" fill="#77ac30"><text x="0" y="0.0">o Night-overpass</text><text x="0" y="46.6">Bias=1.95</text><text x="0" y="93.2">RMSE=30</text><text x="0" y="139.8">N=7591</text></g><rect x="0" y="762.4" width="1019" height="1.6" fill="#000"/></svg></body></html>
